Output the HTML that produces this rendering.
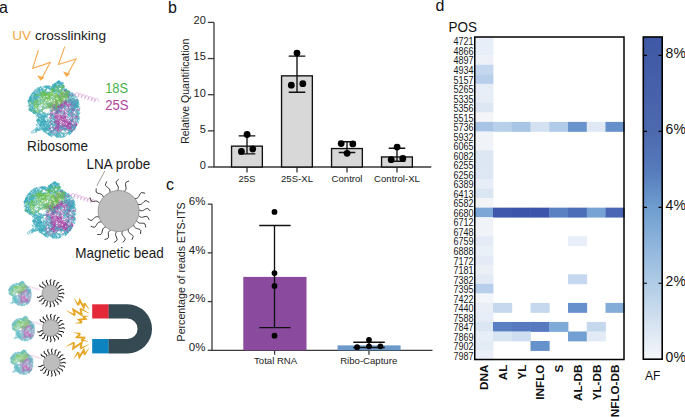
<!DOCTYPE html><html><head><meta charset="utf-8"><style>html,body{margin:0;padding:0;background:#fff;overflow:hidden}svg{display:block}text{font-family:"Liberation Sans",sans-serif}</style></head><body><svg width="685" height="417" viewBox="0 0 685 417"><defs><symbol id="ribo" overflow="visible"><g fill="none" stroke-width=".5" stroke-linecap="round" stroke-linejoin="round"><path d="M59.1 128.7l-.7 0-.2-.9 .1-1.3-.4-1-.2-1.1-.6-1-.4-.9M35.4 110.5l-1.1-.1-.6-1.1-1.2-.2 .1-1-.3-.9-.7-.2-.7 .1-.8 .5 .6 .8 .1 .9 .7 .6-.5 .7-.1 .8 .3-1-.5-.9-.8 .2-.4 1.1-.1-1.1-.7-.2 1-.6 .5-1.1-.2-.9 .2-.7 1.1 .1-.1 1M58.7 106.6l0 1.1-.9 .3-.4 .8-1-.4-.7 .1-1 .3-.8 .5-1.2 0-.5 .5-.1 1-.5 .6-1.2-.2-.8-.2 .2-.8 .8-.2 .4-1.1-.4-1.2-.3-.8M65.7 102.9l1-.3-.1-1.1M56 107.6l-.1 1 .4 1.2M66 90.1l-1 .1M72.6 127.5l-1.2 .2-.9-.2-.2 .9 1 .5 .7-.8 .2-.9 .5-.6-.4-1.2-1-.7 .4-.9-.6-.5 .4-.7 .4-1-.8-.6-.9 .4-.8 .4-.1 .9 .5 .5 1.2-.2 1.3-.2-.4-1.2-.3-1.2-.1-1.1-1-.6-.7 .5 .6 .7 .4 .8-.5 .5-.7 .4M50.7 121.1l-.9 .2M52.2 86.7l-.5 .8-.5 1.1-1.2-.1-.1-.9-.4-1.1-.8 .1-1 .1-.2 1.2-1.2 .4-.2-.9 .1-.7 .4 1.1 1.3-.1 1.1 0 .6-.8 .1-1.1-1.2 .1 .6 .8-.8 .6-.8 .2-.3-.6-.5-.7 .9-.3 0 .9 .7 .5 .8 0 .8 .8-.3 1-.6 .9M70.6 111.9l-.1 1-.8 .3-1.1-.5-1 .4-.9-.1-.6 .6-1.2 0-.7 .1-.7-.9-1.1 0-.2-1.2-.2-1 .1-.8-.6-.5-.2-.9 .1-.9 0-.8-1.3-.2-.7 .3-1.2-.2-.5 1 0 1 .7-.1 0 1.2 0 1.1 .9 .8M44.6 128.4l.9-.1 1.2 0 .5 .7-.3 1.1-.6 .6-1 .3-1 .3-.5-.8 0-1.3-.7-1-.9 0-.8 .6-1 0-.1-.9-.8-.2-.3 1.1 0 1 .6 .4-.9 0-.8-.7-1.1 .2-1.1-.1 .2-1 .7-.6 .8 .7 .2 .8-.6 .4-1 .7-.5-1M46.4 93l.5-.7 1.2 .3 .8 0M65.3 135.7l-.7 .2-1 .4-.5 .8-.9 .4-.9-.7-1 .8-.6-.9 0-.7 1.1-.4-.5-1.2-.7-.9-.8 0-1 .1-.8 .7-.9-.1-.3-.8 1.2-.4 .6 1 .3 .9 .5 1.1-.9 .6-1.1-.7-.5 1 .9 .5 .2-.9-.4-1.1-1.1-.5-.5 1.1-1.1-.2-.5-1-.4-.9M59.9 95.5l.2-.8-.4-.7-1.1-.7 .7-1-.5-.7 .4-.6 .9-.1 .1 .7-.8 .5 .2 .7-.8 .7 .2 .9-.7 .3M56.6 92.9l.7-.9-.7-.5-.4-.7-.7 .2-1.2 .4-.6-.5 .1-.9 1.1-.2 .3-1-.7-.6-.9 .8-.9 .5-.5-.5-.1-1.2-.7-.3-.9 .8-1 .4-.9-.6-.6-.7-.4-.7-.5-.7-.1 1-1.1-.2-.9-.3-1.1 .3-.8 .9-1 .8-.9 .9 .5 .7 .8 0 0 1M38.5 105.4l-1.1-.7 0-1-.8-.4-1-.2-.5-.6-.5-.9-.8 .3-1-.7-.7 .8-.6 1.2-.1 .8-.9 .2-.3-.8-1.1 .2-.3-.7-.8-.7 .2-.8 .1-1.2 .9-.3 1-.4 .6 .5 1.2-.3 .4-.6M73.7 117.3l.9 .4 0 1 .7 .7-.5 .6-.7 .7 1 .7-.4 .7 0 .8-.2 1.2-.9 .9-.8 .2-.1 .8-.1 .9 .4 .6 .5 1 .7 .2 0 .9-1.2 .4-.8-.3-.8 .5-1 .3-.4 .9-.3 .6-.7 .8M73.8 128l.8 .6 .5 .8-1.1-.5-.4-1.2 .8-.5 1.1 .2 .6-1-1-.6 .1-1 .9 .2 .7-.6-.6-.6-.8-.3-1 .2 0 1-.6 .9 .8 .7 .1 .9-.2 1.2-.7 .5 .5 .7 .5-.4M57.8 130.4l-.2 1-.4 .7 .8 .4 1.1 0 .1 1.1 0 1M58.1 106.7l.2 1 .3 1.1 .3 1 .5 1.1-.2 1.2-.9-.1-1.2-.5 0-.8-.9-.2-.3 .8 .9 .5 .2 1.2 1.1 .3 .5 .6M64.8 103.2l.4-.9-.6-.5 .4-1 1-.5 .5-.5 .7 .6-.4 .6-1-.3-.5 .6-1.3 .3-.9 .5-.6-.4-.8 .2M47.1 130.2l.9 .5 .3-.6 1.2-.2 1-.5-.4-1.2-.5-.6-.8 .6-.6-.4-.1-1.2-1.2 .1-.5-.6-.8 .7 .2 .8 .8 .5 1-.1 .1 1.1-1.1 .5-1.1 .2M74.2 124.6l-.9 .9-.8-.7-.8-.2-1-.7-.8 1-.9-.1-.2 .8-.5 1-.4 .8-1-.7-.5 .7-.4 .7-.5 .8 .3 .9 .7 .1 .9-.6-.5-.6-1.2-.2-.1 .9 1.1 .3M50.8 118.7l.3 .8-.8 .5-.3 .8 .6 .7-.4 1.1-.8-.3-1.2 .4-.8-.7 .4-1.2 0-.7 .7-.3 .4-1 .8-.8 1.3-.1 .9 .7 .2 .7-.4 .8-.2 .9 .2 .9 .8 .4 .3 1.1-1.1 .4 .4 1.1 .3 1 1.2-.5 .4 .6 .8 .5 .7 .4M68.3 105.6l-.2 .8-.8-.1-1 .3-.1 .8-.5 .8 .6 .5-.8 1-1.1-.1-.8 .4-.4 .8 .9 .7-.4 .9 0 1.1-.8 .5-1.2-.2-.7 .6 0 1.2-1.2 .2-1.2-.1-.7 .8 .1 1.2-.5 .9-.4 1.1 1.2 .3M73.6 104.8l.7 .9 .8 .1 .9-.3-.3-1 1.1-.2 .3 1.2-1 .8-.8-.2-.8 .6 .6 .7-.7 1 0 1.2-.9 .7-1-.3-.6 1 0 1 .5 .9-.7 .4-1 .4-1.2 .3-1.1 .7-1.3-.1M43.9 108.1l1.3 .1-.2-.7 1-.6M44.1 88.1l.7-.9 .7 .4 .6-.8-.3-1-1 .2 .7 .8 .8-.6 .8 .4 .7-.7-.4 1-.7 .4-.8 .2 .2 1.1-.2 1.1-.1 1-.8 .5-.6-.7-.8-.1-.4-.6-.9-.3-1 .2-.7-.1-.8-.2-1.2 .4-1 .7 .4 1M56 87.9l-.3 .8-.8 .2-.5 .8-.8-.3-.6 .5 .1 .9 .5 1.1 .7 .7 1 .5-.2 .9-.9-.1 .2-1 .7-.7 0-.7 .9-.3 .9 .4 .7 .5 .7-.5 1 0 0-1.1-.3-.7-.7-.4-.1-1-.4-.7-.9-.2-1.1 .3-.9-.7 .5-1-.6-.5-.7 .4-1.2 .4-.9 .1M56.1 131.5l.5-1.1-.9-.4-.8-.8-1.1 .3-.6-.5-.5-1 .8-.4 .6 1.1 .8-.4 .8 0 1.1-.3 .5 .6 .6-.5 1-.8 .4-.8-.1-1.1 .7-.3 .3 .9 1.1 .3 .2 1 1-.3M76 104l.9 .5 .7-.5 .5-1-.6-.8-1.1-.5-.9-.5-.6-.6-1.1 0 0 1.1-1.2 .2-1-.6-1 0-.9 .3-.9-.4-.7-.2 .1-.7 1 0 1.1-.7 .5 .5 0 1M38.7 99.8l-1.1 .3-.8 1 .5 .5M50.2 132.7l-.9-.5 0-.9-.6-.6 .3-1.1-.8-.8M76.4 125.8l-.1-.9-.1-1-1.2-.5-.7-.1-.7-.4-.7-.8 .7-.8-.5-.6-1-.4 .4-1 .3-.7 .3-1.3 .2-.8-1-.6-.2-1 .5-.9-.7-1.1-.9-.6 .4-1.1-.3-1-1.2 .1-1.2 .1-.7 .4-1 .4M39.7 120.4l-.9 .6-.6-.5-.2-1.1 .4-.7-.1-.9 .8-.2 .1-1 1.3-.2 .2-.6 1.2-.3 1.1-.3 1 .3 0 1-1.1 .1-.9-.1-.3 .8 .2 .9-.7 .3-.8 .2-.8 .6-.5 1.1-.9-.5-.8 .2-.8-.1-.1 1.1 1.3-.3 .6 .9-.7 .5-.2 .8 .7 .2 .2 .9 1.1 .5M60.6 93.9l.9-.4-.4-.7 .5-1.1-.5-.9 .5-.6 .1-1.2 .5-1.1 .9-.7 1.2-.2 .4-.7-.7-.4-.8 .4 .3 .7M53.2 109l-.8 .6-.6 1-.7 .9-.7-.3M71.3 126.4l1.2 .4 .9 .5-.4 .9 .5 1 .1 1.1 .3-1.1 .4-.7 .6-.9 .6-.4-.1-.8-1.2-.5-1.2-.1-1 .6-1 .5-.1 .9 .8 0 0 .8 .2 1.2M52.2 107.7l.6-.6 .7 .2 .8 .3 .3 1.1-.6 .4-.7-.7 .2-1 .7-.8 .7 0 .2-1-.5-.8-.9 .7 .7 .9-.3 .9 .9 .7 .9-.3-.2-1.3 .1-.9-1.1-.3-.2-1.2-.9-.1-1 .7 .3 1-1.2 .2 .2 .7 1.1 0 1 .3 .9 .2 .9 .6-.4 1-1.2 .2-.7-.9M76.8 114.1l.4 1-.5 .8-.9 .1-.7-.7-.7-1-1 0-.6 .4-.7-.3-.6 .6-1.1-.2-.9 .4-.6 .8 .7 .5-.6 .7-1 .3-1 .3-1-.3-.3-.8-.9-.4-.2-1-.9 .3-.5-.6-.2-.9-.2-1.1-.6-.6-1-.8-.5 .8 .3 .9M38.1 106.1l-1 .3 0 .8-.1 1.1 .1 .8M51 110l.5 .9 .7 .5-.5 .6-.7 .8 .6 .7 .1 .9 .5 1.1-.1 .9M48.3 108.2l1.2-.4 .8-.6 .3-.7-.1-.9-.2-1.1-.6-.8-1.2-.4-.6 1.1 .4 1.1 .9-.2 .3 .7-.5 1.1-1.1-.1 0-.9 .1-1 .1-.9-.6-1-1.3 .2-.4 .6 .6 .6M30.6 110.2l-.1 .9 1 .3M37.6 98.1l-.7-1.1 .6-1 1 .6 1 .7-.1 1-.6 .7M42.9 122l-.7-.2-.2 1-.8 .9-.8 .7 .5 .7-.8 .6-.8 .2-.3-1 1-.2 .8 .2 .3-.7 .1-1-.9-.8 .4-1-.3-1-.9 .3-.6 .9-.9 .5 .4 1 .7 .6M38.8 128.6l.1 .7-.9 .3-.4-.6-1 .3-.4 .9 .7 .9-.2 1.1-.7 0-.5-1.1 1.1-.5 1.2 0 .9 .1 .2-1.1 .7-.8 .7-.7 .7 .5 1.1-.7 1.1 .4-.3 .9M63 93.3l1 0 .2 1.1 1.2 .3 .4-1-.1-1.2 .9-.8 .7 .6 .5-.6 .7 .6 .7-.1 .8-.5-.7 .4-.7-.7-.9 .5-.2 .6M46.6 127.9l-1.1-.7-.8-.8-1.3 0-.8-.6-1.2 .3-1.2 0-.4-1.1 .4-.7 1.1 0 .1-.7-.7-.4-.3-1.1 .3-.8 .8 .2 .8-.5 .2-1.2 1.1-.3 .6-.8 .1-1 .1-.8 1.2-.2 .6 .4 1.1-.2 .7 .8-.7 .7 .2 1 .7 .6-.1 .9-.8 .7 .7 .7-.5 1M55.3 117.1l-1.2-.3-.1 .9 .9 .7 .9-.3M53.9 121.6l.3 1.2 .9 .4M33.5 97.2l.1-1 .9-.5 .6 .4-.2 .8 .4 1.1 1.2-.3 .5-1.1-.5-.8-.7-1 1.2-.6-.2-.8 .5-.8-.7-.9-.9-.8-.4-.7-.1-.9-.4 1.1 .6 .7 .6-.7M40.1 117.2l.5 .8 .6 .9 .3 1.3 .8 .6-.7 .9-.7 .6 .2 .9 .4 .9 .9 .2 .7 .4 .5 1 .9 .1 0-1 .6-.8 .8-.6-.4-.6-.7-1.1 .1-.9-.5-.6-.2-1.2-.4-.6-1.1-.2-.4-.9 .7-.6-.5-.6M63.3 87.3l-.9-.3-.7 .5-.6-.4 .3-1 .9-.8 .8 .3 .4-.8 0 1 .9 .5-.7 .3-.6 .5-.5-.7-.9-.6-.6 .5-.4 1.1-.9-.4-.8 0-.2 1.2-.6 .6-.6 1.1 .4 .7 .9 .7 .6 .6 .7-.7 .4-.6 .7-.4 .8 0 1.3 .2 .2-1-.3-.9-.7 .3-.7-.7M45.4 89.9l.4 1 .9 .2 .7 .8-.2 1.2 .1 .8M34.8 100.3l-.5-.6 .8-.9-.9-.7-1 .1M62.8 90.8l-1.1-.1-.3-.8-.7-.4-.7 1-1.1 0M69.4 122.3l-.4 .7-.7-.3-.3 .9 .1 1.2 .9 0 .5-.8 1-.6 .3-.9 .5-.6-.2-.8 .9-.6 .3-1.1 .1-.9 .8-.6-.6-.7-.5-.9-1-.6-.9 .3 .3 1.1 .7 1 .8 .7 .6 .3-.3 .7-.5 1 .7 .4-.3 .7-.7-.3M38.5 104l.3 .7 1-.5M49.7 123.3l-.5 .4-.8 .5 .8 1 1.2 .3M36 94.5l-.8 .2-.7-.8-1-.4 .2-.9 .5-.9 .6-1 .6 .2 .7 .4 .5 1-.6 1.1-.6-.4-.9 .4-.5-.8-1-.1-.6 .4 .8 .5 .6-.7-.6-1M63.1 87.5l-.5-1.2-.8-.1-.9 .1-.8-.4-.7-1.1-1.1 .5 .5 1 .3 1.2-.4 .6-.2 1.3 .1 1.2 .6 1 .3 1-1.1 .2-.3 1.1-1.2-.1 0-.7-.6-.6-.9 .3-.4-.9-.7-.9M49.7 104.9l-.7 .9 .8 1 1.2-.6 .7-.7 .4-1M61.9 100.5l.2 1.2-.6 .9M39.8 96.2l-.7-.4 .1-.7 .9-.8 1 0 .4 .6 .4 .8 .6 .6 0 1-.8 .7-1.2 .5-.7-.7-1.3-.2-.7 .3-.7 .8-.9-.6-.6-1.1 .5-.8 .4-1.1M46.1 133l.7-.2 .6 .5 1.1 .1 .2-1 .2-1.1 .6-.6-.3-1.2-1.2 .6-.7 .9-1-.3-1 0 0 1.3-.7-.1 .1-.8-1.2-.2 .5-.7 .9-.1 .1-1.1-1.1-.3-1.1 0M46.5 132.5l-.6 .6-.8-.5-.5-.5-1.2-.4 .4-1-.5-1.2-1-.5-.6 .4-.8-.5-.6 .7-.5 1-.4-.7 .1-.8-.3-.8 .3-1 1.2-.2 1.2 0 .8 .8 .9 .7 .2 1.3 1.2 .1 0-1.1 .3-1 1 .4 1.2 0 .3 1 .6 .8 .8 .8 .9 0 .9 .2 1.1-.4M40.6 93.6l-.4 .7-.4 .8-.7 .8-.8 .2-1 .4-.7-.7-1.1 .6-1.1 .8 .6 .6 .4 .6 .4 1.2M33 96.8l.8 .5-.5 .9 .5 .9 .8-.1 0-1.1 .9 0 .9-.4 .6-1 .1-.7 1.1-.2-.3-1.1 .5-.8 1.1-.7 .5-.7 0-1.1 .6-1 .7 .4 1.2 .1 .6 .9-.1 .9-1 0-.8 .2 .1 1.3-.6 .4-.3 .9-.3 .9-.9-.1-1.2-.3-.8-.6-.9-.1M70.2 95l-.5-.7 .4-.7-.6-.4 .2-.8-.2-.8-.2 1-1.2-.1-.5-1.1 .5-.5 .9 .3 .3 1.1-.6 .6 .9 .8-.5 1-.5 .7-.9-.8-.8-.4-.7 0-.7-.7-.8-.3-.4 .7 .4 1.1 .1 1 .6 1-.6 .9 .6 .6 .4 1.1M63.3 108.6l-1.1-.2-.7 .3-.9-.7 .4-.8M36.4 96l.7 .3 .3 .7 .5 .7-.1 .8-1.1 .7-.2 .9-.8 .4-1-.8-.9 .2-.2 1 .3 1.3-.6 1.1-1.2 0-1 .4 .1 .9-1.3 .3-.2 1 .2 1.1-.2 .8-.9 .1M38.7 123.9l.9 .5 .6 .6 .6 .7 .7-.4-.5-1.2-.4-1 .7-.7 .7-.9 .8-.1 1.2-.3-.3-.7 .5-1.1-.1-.8-1.1-.1-.8-.1-1.1 .2 0 .8 .7 .5 1.1-.2 .6 .5-.1 .8-.7 .5-.9 0 .1 .9-.5 .8-.1 .9-.6 1-.2 .8-.4 1-1 .4M61.5 127.6l.9 .5-.4 1-.8 .8 .5 .6 .6-.4 .1-.7-.8-.4-.5 .5-.9-1 .5-.6 1-.7 .7-.7 1.1 .6 .7 .6 0 1.2 .6 .7 .1 .8 .4 .9M49.9 135.8l-.3-.7-.8-.1-.2-.7 .8-.5 .7 1 1-.5 .5-.5 .6 .5 .7 .9-.9 .7-.5 .8-.4-1.2-.6-.3-.8 .4-.8-1 .3-.6 1.1-.2 1.2 .5 .4-.7 1.2-.3M72.7 100l0-.8 .1-1-.9-.1-.2 .9-.2 1-1.3 0-.9-.4-.7 .6-.1 1.1 .3 .7M73 93.4l.2 1.2-.7 .7-.1 1-1.1 .4-.8-.7-.8 .2-.8 .1-.6 .5 .4 1.1 1.1 .4 1.2-.3 .5-.6 .2-.7 .1-.9-1.2 0-.7 .3-.3-.8-.7-.2-.5 1-.8 .7M34.7 108.6l-.1 .9-.9 .1-1 .4-.6 1-.5 .8-.8-.5-.2-.9-.9-.5-.4-1 1-.5 .8-.4 .6 .9 1.3 0 .9-.2 .4 1.2 .6 1.2-1 .4-.3 .7-.4 .9 .8 0-.1 .8 0-.7-.8-.3 .5-1 1-.3 .4 .6 .9 .3 .6 .9 .7 1 .8-.1M71.8 131.5l-1.1 .1-1-.4-.3 1 .3 1 .6 .5-.3-.8-.9-.6 .1-.8 .6-.5 .5 .5 0 1 .9 .4-.6 .7-.6 .7-.7-.6-.7-.4 .4-.8 1.1-.6 .7-.9-.1-.8-1 .1M59.3 126l.5-.7-.6-.6 0-.8-.4-.6 .3-1-.7-.6 .8-1-1-.7-.8 .5 .1 1.2-.6 .6-.9-.7-.1-.8-1.2 .4 .3 1 .6 .4 .4 .7-.5 .5-.3 .9-.9 1-1 .5M67.2 99.7l-1.1-.3-.7-.8 .4-.9 .5-1 1.1-.7-.3-.7-.6-.8-.4-.8 .2-.7 1.2-.2 .8-.2 .9 .5-.5 .9 .6 .5-.3 .9-.1 .9 .7 .9 .2 1 .8 .5 1.2 .5 .6-.1 1.2-.1 .5-1-.5-1 .6-.8-.4-.7-.6-.4-.6 .7M55.5 99.9l-1.1-.3-.1-1-.3-.7 .4-.9 .5-1.2-.9-.7-.8 .8-.8-.2-1.2-.4-.7-.7-.8 0-.8 .5 0 .8 1 .4 .5 .7 1 .1 1.3-.1 .7-.6 .6 .5 .6 .7-.4 1-.8 .2-1-.3M67.4 94.7l-.7-.9-1.1 .5-.7-.3-.6 .9-.5 .7 .6 .7 1-.3 .5 .6 .5 1 1.2 0 0 1 .5 1.1 .2 .9-1.1 .4-.5 .6-.2 1-1.1-.3 0-1.1 .7-.3 1.2-.4 .3 .8 .7 .9 .9 .4 .5-.8 .4-.6M55.6 83.1l-.2 1.1 .9 .7 .8-.4 1 .8 1.3 .2 .2-1.2-.5-.5 .1-.8 .6-.4-.3-.9-1 .2-.9 .7-.9 .9-.8-.4 .4-1.2 .7 .8 .8 .1 .7-.8 .2-1.2M64.7 88.6l-.1 1.3 1.3 0-.1 1 .6 .8-1 .8-.9-.9 .6-.8 .6-.7 .1-1.3 .8 0 .2 1.1-.2 .8 .9 .5 1-.4-.8 .2-.6-.7-.5-1.2-1.2 .3-.7 1M41.4 116.1l.6-.8 .7-.4 .7-.5 .4-1-.4-.6M53.7 134.3l1-.4 1-.7 .9 1 .9-.2 .6 .6-.6 .7-.7 .3-.9-.2-1.1-.1-.3-.7-.8 0-.7-.9 .2-1.2-.7-.7-.6 .7-.7 .4-.8-.3-1-.3-.9 .7-.4 .6 .8 .8-.3 1 1.1-.1 .5 .9 .1-.8-.9-.3 1-.4 .5-1.1 .8 0 .8 .2 .3-.8M56.3 112.7l.6-.9 .6-.9 1 .1 .4 .9-.6 .3-.9-.9-.5-.8 .8-1 .5-.8-.9-.6-.8-.5-1.1 .1-.8-.2-.5-1.2M43.8 124.5l-.6-.9 1-.7 .5 .8-.4 .6-.2 .8 0 .8 0 1.1 1 0 .2-.9 1.1-.1 1.2-.3 .5 .6 .8 .5 .6-1 0-.7-.9-.8-1 .4-.9 .3-1-.7-.4-.7M34.4 113.5l.1-.9-.2-1.2-.7-.5-.6-.6-1.1-.4-.6-.4-1.1 .1-.5 .8-.4-.9 .5-.5 .6 .5 .8 .7 .9 .5-.2 .9 .8 .2 0 1.1-.1-1 .5-.9 .7 .3 1.1-.2 .4 1-.5 .6-.8 .4-.8-.2 .4-.7 1.2-.5 .5-.4 .8 .3 .4 .9 .5 .6M59.4 83l-.6-.5-.7-.5-.9 .2-.2-.8 1 .8 .7-.6 .1-1.2 0 1 .6 1 .4 1 1.2-.1 1.1-.1 .6-1-.8 .5-.7 1 .4 .9 .9 .7 .7 .4 .9 0-.2 .7-.6 .4-1.1-.4-.7 1-.8-.1-.9-.7 .3-.8 .6-1.2 0-1.1-.1-1.1M57.6 107.7l.8 .6 .9-.9 1.2 .1 .5 .6 .7 0 .7 .2 .6-.6 1 .6 1.2-.2 .2-.8-.2-1.1-1.1-.1M56.6 126.1l-.2 1.2 .6 .5 .6 .5 .5 1-.1 .8-.6 .9 0 .7M33.8 97.6l.3-.8 .3-1.1 .7 .1 .7 .2 .7-1 .9-.8 .5-.5 .3-1 1.2 .3 1 .1 .4-1-.5-.7-.5 .5-.8 0-.1-.7 .8-.3-.5-1-1.1-.3-.5 .5-1.1-.1M39.1 121.5l1-.7 .7-.1 .7-.7 0-.8 .9 .1 .8 .5-.6 .7 .9 .6 .2 1.2 .9 0 .8 0 .2-.8-.9-.2-.4 .6 .8 .7 .2 .9-.4 .6-.6 1.1 .7 .4M36.6 118l.8 .6 .7 .9 1-.1 .1 .8-1.1 .7-.9 0-.1-.9 .2-.9 .9 .1 .2 1-1.1 .5 .6-.7 .7-.5 .7 .3 .5 .7 .9 .6-.9 1-.3 1.2M78.5 112.5l-.7-.4-.4 .7-.7-.4 .5-.9 0-.8 .1-.8-.6-.4-.8-.9 .4-1.1 .4-.6 .9-.6-.6-.7-1-.1-.1-.8-1 .1-.7-.5-.5-.5-1.1-.5-.5 .6-1-.2-.9 .4 .5 .6-.2 .9 .7 .7-.6 .6-.6-.5 .5-1.1-.7-.6M76 122.4l.2-1 1.2-.1-.1-1-1.2-.3-.5 .6-.3 1.1 .9 .4 .7-.8 .9 .8 .6 1-.7-.9 .1-.9-.7-.3 .4-1 1.1-.6 .5-1 .5-.8-.3 1-.7-.2 .2-1 .3-.8-.9-.3-.4-.8-.3-.7 .5-.9 .2-1.1 .5-.8 1.1 .2 .3 .9-.9 .6-1.1 .7-.5-1.2M61.6 115.8l1.1-.6 .8 .3 .8 .4 .3-.7-.3-.8 .3-1.2 .1-1.3 1.3 .3 .8-.3 .3-.7-.7-.9 .8-.9 .7-.9 .7 .1 1 .7 0 1.2 0 .8-.7 .5-1.2-.5-.9 0 0-1.1M67.8 92.2l1.1-.1-.1 1M73.3 108.5l.2-1.2-.1-1.2 .5-.9 .8 .2 0 .9 .9 0 0-.8 .4-.7-.6-.6-1.2-.2-.1-1.2 1 0M72.6 121.4l-.6-1M51.8 125l.6-.8-1-.8-.7 0-1 .8 .2 1 0 .8-.1 .7-.1 1.3-.1 1.2 .6 1 1.1 .2-.2 1-.8 .3-.5 .6 0 1.1-.8 .8-.7 .2-.6-.4-.8-.1 .9-1 1 .6 .7-.9M70.7 91.9l-1 0-.6-.7-1.2 .2-1.1-.2-.7 .3-1 .1-.3-1 .5-.9 .7-.2 .1 1.1-.2 .7 1 .5 .4 1 .9 .4 .3 1.1-.6 .3-.7-.3-.6-.8-.8 .5-1.2-.1-.2 1-.7 .3-.7-1-.8-.3-.6 .6M54.2 109.4l.2 1.1 1.2 0 .8-.3 .4 1-.4 .7-.8 0-.5 .8 .9 .5 .8-.4 .9 .2 0 1.1-.9 .3-.6-1.1-1.1 .1-1 .6-1.2-.1-.3 .9-1.2 .5-.7-.2-.6-.5-.7-.9-1.2 .5-.8-.1-.6 .8-1-.3-.4 .7 .9 .8 1-.4M63.8 88.2l.6 .5-.1 .9 .3 1.2M33.8 101.7l-1.2 .5-1.1-.1-.7-.4-.6-1.2-1.1 .3-.6 .6 0-1.2 .8-.6 1-.8-.7-.8 .7-.4 .6 .7 .5 1-.9 1-.1 .8-1.1 0-.2-.8 .6-.6-.4-.7 .9 .3M53.2 116.3l.9 .6 1 .8 .4-.5 .4-.7M43.7 129l-.1 1.2 .9 1 1-.9 0-1.1 .4-.8 .9 .6 0 1 1.2 .2 .5-.7 .7-.4 .9-.7-.5-.9-1 .2-1-.3-.3 .8-.9-.3-.9 0-.9-.8-.3-.8-.1-1-1.2-.5M74.6 126l-.4 .7 .4 .9 .2 1-.5-1-1.1 .4-1.2 .2-1.1-.3-.8-.6-.8-.6-.4-1-1.3-.2-1.2-.1-1.1 .6-.8-.1-.6-.5 .1-1.2 .6-1.1-.2-.9-1.2-.4 .3-.9-.8-.2M61.3 133.2l1-.5 1 .3 .7 1.1-.4 1.2 .3 .8-1.1 .7-.7-.7-1.1-.6-.7 .3 .1 .9 .3 .9-.7-.1-.7-.1-1.3-.2-1-.7 .3-1-.7-.1-1.1-.6-.8 .1-.7-.7M56.2 120.8l.4 1-1 .6-.8 .3 .1 .7 0 1.3-.8 .2-1-.5-1.1-.5-.7 .5-1 .6M55.7 107.9l0-.8M34.5 95.3l-.3-1.1-.7-.9-1 .4-.7-.4 1.1 .3 .8-.3 .4 .9 .7-.3 .5 1.1-.9 .8 .3 .7-.5 1.2-.2 1.2-.8-.1-.2-1-1.2 .2-.7-.6-.6-.8 1.1 .3 .3-.9 .6-.7 .9-.4 .4 .8-.2 1.2-.8 .9M55.8 121l-1 .2-.1-1.2-.4-.9-1.1-.3-.8 0-.7-.9-1.1-.4-.6-.8 .6-.6 .9-.5 .7-1.1M53.6 92.7l.4-1 1-.5-.5-1.1-.8 .4-.4 .9 .8 .6 .7-.5 .4-.7 .7-.1 .5-1.1 .2-1.3-.5-.8-.4-.9 .9-.3 .8 .6 1.2 .2-.1 .7-.4 1.1-.3 .9-.8 .3-.7 .4-.9-.8-1-.4M54 90.3l-.4-.9-.6-1-.9-.1-.7 .8-.5 .8-1.2-.6-.6-.9-.9 .4-.6-.6-.9 .5-.4 .7-.5 .9-.8-.1-.7 .7-.9 .1-.6 .3 .5 .8-.3 .9 .8 .3M43 128.2l1.1 .5 .8 0 .7 .6 .7-.5 .4-.6 .3-1 .4-.9 .7 0 1-.9 1.1 .7 .1 1-.8 .7 .4 .8 1.2-.4 .6-.7 .6-.5 1.2 0 .6 1 .8 .3 .3 1 .7 .7 1.1-.4 1-.6 .5-.8 .6-.9 .9 .2M35.9 105.3l-.9-.4-1.2 .1-.2 1.2-.6 .9-1 .5 .1 .7 .9 0 .2-1.1 .2-.7-1-.4-.4-1-.5-1.2 .8-.5 .6 .7 1 .5 1-.8 1 .7 .8 .5 .8-.5 .7 .4 .8-.5 .5-.9 .7 .1 .3-1.2 .7-.6 0-.7 0-1.2-.9 0-.2 1M34.5 91.3l.7 .4-.4 .8-.2 .7 .1 .8 .9 .6 .5 1-.7 .4-1.2 0-1-.8-.9-.5 .1-1 .8 0 .8 .6 1.1-.1 0 .7 1 .1 .4-.8-.9-.8-.9 .9-.9-.1 0-1-1 0-.2 .8-1.1 .1-.5 .8-.2 1-.3 1.3-.8 .3 1 0 1.2-.4 .3-.9-.8-.9M57.9 132.4l-.4 .6-.1 .8 .9 .4 .4-1.2 .4-1.1 1-.6 .8 .2 .4 .8 .3 1-.5 .6-.1 1.2-1.2 .5 .2 .8 1.1 .1 .7 .9-.3-1 1-.4 1.1 .2 1.1 .2-.7 .3-.7 .6 .2-.9 0-1 .7 .1 0-1.2-.4-.9M44.6 118.1l1.1-.3 .2-.9 .9-.8 .6-1.1 .5-.4-.2-.7-.1-.9 .7-.7 1 .6 .7 .7 1 .1 1.2-.5 .5 1.1-.5 .5 .5 .8 .9-.3 .3 1.2-.8 .2-.3 .6 .3 .7 .2 .9-.3 .9-.6 .7-1.1 .2-.8-.6-.8-.4-.4 .9-.7 .5-1-.7M54.1 89.8l-.2-1.2-1.3 .2-.9 .8M42.7 102l.6-1.1 .5-.9 .9 .3 .5 .8 1.1 .4 .7 .2-.1 1-.1 1 1 .6 .5-.7 .7-.8 .9 .3 .4-.9 .9-.3 .9 .7 .8-.5-.7-.8 0-.9 .3-.8 1.1 .4M79.5 110.6l-.5 .7-1 .1-.5 .4 0 1-.4 .7-1.1-.5-.5-1.1-1-.8-1 .2M46.3 130.2l.3-.7-.1-.9 1 0 .8-.3 .2-.9-.6-.4 .2-.9 0-1.1-.4-.6-.8 .4-.4 1.1-.7 1 0 1.3-.2 .7 .7 .7-.7 .6-.9-.2-.1-.7-.2-1.3-.6-.5-.5 .7 .2 1.1 .8 .4 .9-.6 .9 .7 1-.5 .4 1 1.2-.2 .4 .8M44.9 95.8l-.4-.8-.5-.8-.2-.9M74 98.5l-.4-1.2 .3-.8-.5-.6-1-.4-.5 .9-.6 .4-.9 .7-.9 .5-.7-.8M53.9 85.6l-.6 .8 .6 .7 1.1-.6 .8 .8 .9 .5 .9 .1 1-.2 .4-1.2 .9-.9-.6-.9 .2-1.1-1.1-.1-1.2-.2-1 0-.8 .5-.9 0-.6 .7-1 .4-.8 .3 1.2 .1 .8 1 0 1 .3 .8-.7 .4-.7-1.1-1 0-.4 .7 .6 .7 .8 .1 .5-1.1M45 122.6l-1-.6-.9 .9-.7-.2-.2 1.2-.7 .5-.7-.9-.4-.5-.6-.8-.7-.6 .3-.8-.8-.4 .1-1.1-.5-1.1 .9-.3 0-.9-1.2-.3-.5-.7-.2-1.2 .9 0 1-.2 1-.3 .8-.4 .9-.2 .6-.8 .8 .1 .9-.1 .1 .7 .8 1 0 .8-.8 .7 .4 .7M42.2 120.2l1.3 .1 .5 .7 .6 .5-.8 .6-.5 .5-.7-.3-.8-.7-.5-1.1 1-.5 .7-.4 .6 .8 .9 .5 .8-.1 .8 .2 .2 1.1 .7 .7-.6 .7-.1 1 .6 .6-.5 .9-.9 .7 .2 .9 1.3-.3 .8-.6 .7-.3 1.2 .3 0 .8 .7 .6 .5 .5-.3 1.2 .6 .9 .7-.1M70.6 95.9l-.3-.9 1-.4 .9-.4 .6 .7 .5 .7-.5 1.1-.8-.3-1.2 .5-.7 .2-.4 .6 .7 .7-.2 1 .4 .9-.1 1.1-1 .6-.6 .5-.8 1-.6-.5-.1-1-1.1-.6-1.1 .7-.9 0-1.2-.3-.7 .4 .2 .9-.1 1.2 .7 1-.6 .7-.7-.1M60.6 123.9l-.8-.3-.7 .2-.9 .7-.9 0-.3 .8 .7 .7 .8-.7 1.2-.2 .2 1 1.2 .2 .9 .6 .9-.5-.4-1.1-.2-1.3-1.2 0-.8 .1-.1-.9-.7-.4 .6-.8 .5-.8 1-.7 .6-.9 0-.8 1-.6-.1-1.1M75.4 102.8l-.1 .9 .7 .2 .2 .9 .8 .3 .8-.2-.3-1-.6-.6-.1-.7-.9-.8-.8 .5-1-.6-.8 .5M61.1 92l.3-.8 .8-.8 .7-.5 0-1.2-.2-.9 .4-1.1-.7-.7-.1-1.1-1.3 0 0-1-.7 .2 .1 .9-.6 .7 0 .9-.9 0-.6 .7-.7 .7-.2 1.2 .7 1 .3 .7-.7 .8M46.1 130.6l-.9 .5 .5 .7 .8 .1 .4 1.2 1 .7 1-.1 .6-1.1 .5-.9 1-.1 1.2-.1 1-.1 .5-.6-.3-1.3 .1-.7-.9-.6-1-.8 .3-.6 1.3-.2 .9 .9 1 .3 .7 1-.2 1.2 .5 1.1 .2 1.2 .6 .9M67.5 134.2l-.6-.5-1.2-.3-.4 .5-.8 .1-.6-.4-1.1 .3-.5-.7-.5-.5-.9-.2-.3-1.1 .5-.8 .8-.2 .7-.6 .1-1.1-.6-.6-1.2 0-.9-.5-1.3-.1 0-1 .3-1.2-.5-.7-.9 .4-.7-.4-1.2-.4-.9-.2-.2-1.2M56.9 112.8l-1-.6 0-1.1 .8-.5 1.3 0 .4-.6 .2-1-.7-.5 .3-.9-.6-.5-.5-.7-.6-.7-.8-.7M43.3 115.8l0-.9-.7-.2 .1-1.3 .9 .1 .6 .6 .6-.4 .5-1 .2 .8 0 .8 .2 1.2 .4 1.3-.3 .7-1.1-.3-.8-.1-.6-.4-.7-.4-1.3-.2-.9-.5-.7-.9-.2-.8-1-.3 .2-1.2 .1-.9 .3-.6 .5-1.1 .6 .3 .9-.5 1.2-.3 0-.8M42.3 110.7l-.1 .8 .5 .7 1 .4 .8-.3 .8 .8-.8 .9 .3 .9-.8 .9 .1 .9-.2 .7 .8 .9 .1 1-.1 1 .2 .7-.4 1-.3 1.2-1 .3-.9-.9-1 .8-.6 1-.8 .1-.7-.2-.6-.7-.7-.4 0-1.1-.7-.9 1-.7M69 105.3l0-1-.5-.5 .2-.8 .8 .2 .8-1-.7-.9 .9-.6 0-1.1-.3-.8-.8 0-1.2-.2-.3-.8 .6-.8 .8-.5 .4-1.1-.3-.7 .1-1.1-.2-.9-1.2-.1M29.7 97.7l.8 .4 0 1-.5 .9-1.3-.2-.5 .8 1.1 .2 .2-1.1 0-1.3 1.3-.2 .5-.7 .7-.4 1 .1 .8 .5 .2 .7-.6 .9-1 .7-.8 .2-1 .4-.5-1-.2-1.3 1.1-.3 .6 1.1 .2 1.1-1.1 .2 .1 .8-.6 .7-.8-.6-.1-1.2 .2-.8M71.5 128.7l.5 .5 .8 .5-.5 .9-.7-.4-.7 0-.1 1.1 .8 .1 1.3-.2 .3-.6M36.3 96.5l-1-.7 .1-.8 1.3-.3 .8-.4 1.2 .3 .6-.6 .3-1.1-.7-.7-.8-.7-1.2 .6-.3-1 .5-.7 .9 .5 .2 1.2 .8 1 .7 0 1.3-.1 .3 1.2 .3 1.2M43.6 87.8l.5-1.1 1-.3 1.1-.5-.1 .7-.4 .8 0 .8 .8 .1 .2 .9-.9 .5-.1 .9-.6 .7-.6 .4-.7 .8-1.1-.4-.7 .9-.7 .2-.6 .5-.6-.7-.9 .9-.8 .5-.8-.5-.5-1 .7-.6-.1-1.2 .4-.7 1.2 .5M59.9 97l.7 .1 .8 .1 .7 .2 .2 1.1-.6 1.2-.9-.6-.2-.7-.9 .2-.2-.8 0-.7-.3-1.2 0-1.2-.8 0-.5 1.1 1 .8 1.2-.2 .9-.1 .1 .9-.4 .6-1.3-.1-.5 1 .4 .7 .8 .8-.8 1-.8-.8-.2-.8 .5-.9M71.9 112.6l-.3-.8-.8 .1-1 .6-.4-.8-.7-.3 .1-.7 1-.7 .7-1 .7-.5 .9-.4 .2-.8-.6-.8-.9 0-.4 .7-1.1-.1-1.2-.4-1-.2 .1-.8M73.2 109.6l.9 .6 .8-.3 .4-.8 1.1 .6 1.1 .4 .5 .6 .2 1-.6 .8 .8 .8 1.1 .3-1.3 .1-.6 .7 .5 1.1-.4 .8-.7 .5M36 124.1l.5 .6 .8-.7 .7 .6-.5 .6-.7-.3-.9 0 .9 .4 .6 .9 .8-.3 .2 .8-.5 .6-.7 .6 0 .7 0 .9 0 1.2-.7 .7-.3 .8-1-.1 .6-.9 .1-1.1-.1-.8 .5-.6 .5-.5 .1-.9M55.6 85.2l-.6-.7 .5-1 1 .7M72.1 110.6l.7-.5 .8-.1 .9 .4 .6-.8-1.1-.6 .3-1.2-.6-.6-1-.1-.4-.7-.8-.9 .3-1.2 .4-.8 .6-.6-.7-.5-.7 .5 0 .9 .2 .9M72.1 127.2l-1 .1-.4 .9-1.1 .4-.2 .8 .2 .9 .9 .7 .9 .2 1.1 .4-1 .1-1-.7 .4-1 0-.9-.7-.5-.6-.5 0-1.2-.9-.9-.9 .1-.6 .4-1 .7-.2 1.1-.7 .7M42.3 92.7l.4-.7 .7-.6 1 0 .9-.7 .9 .1 .6 .6M32.7 104.1l.5-.7-.6-.9 .3-.7 1.1 .3 .1 .9 .4 .7 1.1 .4 1.2-.4 .9 .8 .8-.4 .7 .5 .7-.1M54.7 86l0-.9 .2-1.1-.2-1 .8 .6-.7 .8-.5 1.2 .5 1.1-.2 .7-.6 .6-.3 1.2M48.9 92.7l.8-.6 1 .7M74 101.5l-.7 .1M38.1 87.5l.4 1.3 1.1-.2 .4-1.2 .5-1.1-.1 .9-.7 .6-.1 1-.6 .6 .4 .9-.1 .7 .7 1.1 1.2 .2M31.2 100.8l.6 .3-.3 1.1-1.3 .3-.4-.9-.8 0-1 0 .1-.8 .4-.8 .9 .6 .5-.8 .9 0 .6 .5 1.2 0 1 .3 .8-.7 .7-.5 1-.1M60.3 103.7l.1 1.1-.7 .2-.6 .4-.8 .1-1.1-.3M73.6 101.8l-1.3 .4-.7 .1-.9-.9-1-.5-.7 1-.8-.4-1-.7-.6 1-.9 .1-.6 .8-.8 .3-.5 .9 .3 1 1.2 .3 .4 .8-.3 .8-.9-.3-.1-.9 .8-.6 .8 .4 .7-1 .3-1.1" stroke="#3caabb"/><path d="M70.2 128.1l-.8 .6-1.1-.6-1-.4-.5 1-1.1 .7-.8-.4-1.1-.1 0 .9 .7 .4 .6-1-.5-.6-1.1-.6-.6 .8-.9 .8-1.2-.4-.8 .4-.8 .9-.6-.5-.8 .4M62.8 100l-.3 1.1 1 .6 1-.9-.3-1.2-.8 .2-1.1 .3-.7 .7-.7-.2-.5-1.1M61.5 97l.2-1 1.2 0 1.1 .4 .5-.6 .7-.4-.4-1M55.7 107.1l.8-.6 1-.5 .6 .7M72 120.4l-.9 .6-.7-.6-.8 .8-.3 .9-1-.3-.4-.7-.8 .1 .1 .9 .9 .9 .7 .2 0 .8 .9 .4 .5-.7 .7-.4M66.4 108.7l-.9 .8-.9-.5-.3-1.2-1-.1-1.2-.1-.5-1.1-.2-1.2 .6-1-.3-.7-1 .1-.1 1.2-.3 1.1-.8 .8-.4 .5-1.2-.2-1-.1-.5-.5M53.5 106l1.1 .6 .6-.6 .7-.9M62.6 94.6l-.6-.8M57.4 105.5l.8 .3 .3 1.2 1 0 .7 1-.9 .6 .6 1.1-.8 .6-.8 .6-.8-.2-.7 1 .7 .9 0 1.2-.7 .2-.6-.5-.8 .6 .6 .9-1 .6M55.6 105.2l.8 .7 .8 .3 .5 .4 1 0M52.6 116.9l-.5 .5 .8 1 1.1 0 .1 .9 1.1 .8 .4 .7-.2 .9 .4 .6-.4 1.2-.8 .9 .6 .5 1 .8-.5 .8 .2 .9 .4 1.2 1.1 .3 .6 1-.4 1 .2 .9 .7 .9 .7-.4 .8 .2 .3-.6 .5-.7M55.1 123.2l.3 1.2M56.9 126.5l.4 .7 .8-.4 .2-1 .6-.5 .4-.6-1.1-.6-.9 .4-.8 .9 .1 .7M52.1 105.8l-.6-.8M50.1 105.8l-.6 .8 .8 .7 .9-.7 .9 .2 .3-1-.1-1.2M48.8 106.8l.7 .9 1-.3 .3 .8 1 .3 .7-.2 .1-.8 1.1 .2 .1 .7-.6 .6M73.8 105.2l.8-.2 .9 .1 .8 1 .8 .7 0 .9 1 .7-.4 1.1-1.1 .6-1-.1-.9 .1-.7-.2-1.2-.1-.8-.7-.9 0-1.1 .2-.9 .6-.5-.7-.1-1.1-.5-.9 .7-.3 .7-.2 1 .7M54.7 104.7l-.7-.6-.7 .2-.6 .8M51.3 105.1l-.8-.1-.8-.1M52.1 104.5l.1-.7-1.2-.2-1.2 0M73.9 122.8l-.8-.8 .7-1.1-.6-.4-.8 1-1 .2-.7 .6-1.2 .3-.7-.8-1.3-.3-.5-.8-1.3 .2-.2 1.3 1 .6 1.1 .5 .8 .3 .3 .8 1 .5 .7 1 .3 1.1-.3 .7 .8 .9 .5 1.2 .9 .2 1.1-.1 .5-.8 .9-.4 .3-.7-1.2-.2-.7 .4M63.9 96.9l0-.9-.4-.8-.7-.7 .2-1.2M58 96.8l.6 1.1 1.3-.4-.3-1.2 .3-.8M58.3 94.7l-.8 .1-.4 1.1M73.6 109l-.6 .8-.1 .8-.9 .2-.3-1-.8-.4 .6-1.1 .6 .3 1.2-.4 .5-.9-.2-1.1-.3-1.1M73.3 102.2l-.9-.1 .1-.8M70.7 99.2l-.4 1.2 .9 .5 .6 .6-.1 .9-.5 .9 0 .9 .8 .1 .2 .9-.2 .7-.5 .8-.4 .8M58.2 107.8l-1-.3-1.2 .1M78.9 116.6l-.5 .7-.2 .8 0 .9-1 .3-.3-1.1-.3-1.2 .7-1.1-.6-.7-.6 .3-.6-.6-1-.2 .1-.8-1.1-.3-.2-1.1-1.2 .2-.9 .3 0 1.3-.7 .9 .7 1.1 .8-.2 .9-.2 .8 .6M66.2 103l-.6 .7-.3 .7-.6-.3-.8-1-1.1 0-.8 .3-.1 .8-1.1 .3-.3-.7M61.2 111.6l-1.2 .1-.4-.8-.1-1 .7-.1 .6 .7 .8-.1 .9-.6-.2-1.1-1.3-.3-.1-1.1 .9-.2 .9-.9 .5-.8 .9-.3 .8-.7 .6-.6 .9-.1 .6-.7-.6-.9 .2-.8 .1-.7-.8-.5M63 116.4l-.8-.2-.7-.4-.9 .6-.2 .9 .8 1 .9-.5 .6 .5 1.1 .5 .6 .7 .7-.6 .5-1-.2-.9 .2-1.2-.2-.9 0-1.2-1.1-.7-.3-.8 .3-.9-1.1-.4-1 0-1.3 .1-.5-.5M59.2 106.8l.6 .5 .7-.7-.5-1-.8 .4 .1 1-.9 .2-.7 .6-.5 .5-1-.3-.2 1-.9 .1-1.1 .3-.2 .9-1.1 .1-.8-.9-.9 .5M71.5 109.8l.6 .8M54.1 114.8l.9-.2 .8 .9 .1 1.3-.8 .5 .5 1-.6 .7M64.6 90.8l.7 .4M66.6 91.1l.3 1.2 .9-.1M68.8 93.1l.1 1.3-1 .4-.2 1 .8 .4 .2 .7-.7 .3-1-.5M67.6 125.4l1.2 .1-.1 1.2-.8 .8 .6 .7 .8-.9 1.1 0 .6-.7-.4-1 .8-.3-.2-.7-.9-.9 .3-1-.7-.3-.9 .7-.9 1-1-.7-1-.6-.6 .5-.8 .5-.1 .9 1.3 0 .9 .8-.7 .7-.9 0-.6-1-.7 .1-.4 1 0 .7-1 .5-.6 .4-.8-.7M78.8 110.5l.7 .3-.8-.6 .1-.7 .9-.6M79.4 109.5l-1.2 .3-1.1-.3-.3 1.1-1 .4 .1 1 .5 1.1 .7 .3-.2 1.1-.7 .9 .8 .5 .2 1-.7 .5-.7-1.1-.8-.3-.6 .5 .5 .6 1 .4 .4-.9 1.1 .2 .7 .5-.4 .7-.4 .8-.8 .2M56.1 119.6l.9-.8 .4-.7 .7 .3 .3-.8-.5-1.2 .7-.6 1-.7 1 .4M70.6 127.1l0-1-.2-1.1 .4-1.2 .2-.9-1.3-.1-.8 .9-.6 .9-.5 .9 0 .7 .5 .5 .7 .5 .1 .9 .8 .3-.6 1.2-.7-.2-.4 .9 .3 1.1-.4 1.1-1 .1-.9 .1-.5-.7M68.8 104.5l.9 .7 .9-.9 .8 .8 .8 .2 .9-.7 .9 .1 .8-.9M73.6 101.3l-.1 .7-.8-.2-1.1 .4M61.1 103.5l.1 1.2-.6 .6-1-.7M60.4 103.8l1.2 0 .8-.8 .4-1.1M60.1 126.2l.8 .9 .2 .6-.8 .5-1.1 .6-.4 .6 .4 1.1 .9 0 .5-.8-.8-1 .5-.6-.5-.9 1-.5-.1-1.2-1 .1-.7-.6-.5-1.1-.8 0-.6 .5 .2 .7 .8 .7 .9-.3-.1-.8-.7-1.1-.8 .1M68.8 97.2l-.9-.3 .3-1.2M67 94.1l-.6 1-.7 .8-.5 1.2-1.2-.5M62 98.1l-1.1 .3-.7-.6-.5-1.1 .4-1.2-.2-1.2 .7-.4M52.2 105.2l.9 .6 .7-.2 1.1 .5 .9-.4 1.1 .5 .7-.7 .9-.9-.6-.8-1-.1 .3-1.2-.9-.1-.8 .4M75.8 107.4l-.5 .8-1.1 .4 0 .8 .6 .6-1 .8-.8-.9-.2-1.1-.5-.6M73.8 109.4l-.3 .7-1.2-.4-.5-.7 .5-.7 1 .2M55.7 105l.2-.7 .8 .2 .1-1.2 .4-1-.7-.9-1-.4-.9 .6-.9 .1M62 120.5l-.1-.7 0-1.3-.7-.4-1.2 .3-.4 .7 1.2 .5 .7-.5 .7 .6 0 1.2 1.1 .3 1 .1 .1-.8-.4-.8-.8-.7-.6-.6-.9-.6 .1-1.2 .6-.8 .8-.9 0-1.1 1.2-.3 .2-.7-.7-1 .9-.9 .6-.6 1.2-.1 .7-.3 .4-.9-.6-.6M69.7 130.3l-.3-.8-.6-.9-.8-.2-.9-.3 .3-1.2-.6-.8-.6-.4-1.2-.6-1 .3-.7-.3 .3-.8M60.7 127.5l.2-.8-.7-.8-.9 .2-.8-.6-.7 1-.7-.1-.7 .1 .1 1.2-.7 .8 .5 .6 .7-.2 .8-.6 .9-.1-.2-1.3-.7 .2-.7-.6-1.3 .2 .3 1.2-1 .7-.8 .6-.3 .6M59.4 119.1l-.6 .9-.1 .9-.9 .5-.5 .9-.9-.3 .2-1 .6 .2 1.1 .1 .7 1 .3 1-.2 1-1.1 .8 .6 .6-.3 .6-.8 .1-1-.6-.9 .4-.2 1.1-.3 1 .3 1-1.1 .4-.3-.8-.3-.9-.8-.8-1 .3-1.1-.7-.4 .8-.6 1.1 .7 1 .9 .5-.3 .7 .1 .8M76.4 103.6l.5-1 .1-1.3 .8-.4-.4-.9 .2-.9-1-.2-.2 1.2-.5 .7-.4 .7 .5 .7-.4 .9-.9 .3-.8-.6-.4-.9-.1-.8 1.1-.2 1.1 0 .1-.9-.8-.9-.7 .7M68.8 102l.5 1 1.2 .1M63.2 102.6l.3 .8 1.1 .2 .4 .8 1 .7 .3 1.2-1.2 .4-.7 .5-1-.1-1-.4 .3-1.1-.9-.7-.5 .9-.5 1-.9-.7-.7-.3M61 103.8l.2 1.1 1.2-.1-.1-.8 .8-.2 1.1-.3 .9-.4 .1-1.2M68.2 100.6l.4 1.1-.6 .9-1.1 .3-.3-1.2M70 95.5l1.2 .2 .7 .2 1-.2 .2-1.2-.1-1.1-.9-.3-.5 1-.7-.1M61.7 101.9l-1-.6 .4-.9 .8 .1M61.5 102.6l-.9-.8-.7 1 .4 .9M55.6 106.5l-.8 .3 0 .8-1.2-.2-1.2 0 0-1.2 .2-.9M54.5 103.9l.9 .9 1.2-.3-.3-1-.1-.8 1-.2 .3-.9 .5-.7-.6-.4M70.1 99.7l.7 1.1 .8-.4 .7-.6 1.2 .3M55.9 116.5l.8 .1 0 .9 1.2 .2 .6 .7 .4 1-.9 .4-.9 .3-.9 .7M58.1 128.6l.1-1.2 1.3-.1 1.2 .4 .7-.4 1.1 .6 .9-.7 .1-.7-1-.1-1.1-.2 .3-.8 1.1 .2 .7 .1 1.1 0 .5 .6-.7 .5-1.2-.2-.7-1 0-1.3 0-1.1 0-1-.2-.8-.1-.8-.7-.4-.7-.2-.2-.8-1 .4M63.7 92.9l-1.1 .1-.5-.6-1-.4M61 107.2l-.4-1-1.3 0-.9-.5-.5 .7-.3 1.3M56.5 126.9l.7 .3 .4 1.2 .7 .9-.3 1 .7 .4 .1 1.1M61.6 94.5l-.5 1M73.5 111.3l-.5 .8-1 0-.4-.6 .2-.9 .8-.5 .6-.5M49.4 121.6l1 .2 .3 1.3-1 .2M50.4 125.5l.2-.9 1-.4 1 .1 .3-1.1 1-.4 1.1-.1 1-.2 1.1-.2 .8 .5 0 .9-.5 .8-1.2-.4-.2-.9-.7-.7-.3-.6M56.5 134.7l0-.9-.3-.7-.6-.9-1 .1-.5 1.1-.6 .8-.9-.8 .3-1 .1-.8 1-.7 0-.8 .5-1 .7-.5 .8-.3 .8 .9 .5 1.1 .8-.2 .5-.5-.6-.7 .2-1.1 .1-.9 0-1.2-.9-.8-1.3 .1-.3 .8-.6 .5 .6 1M66.4 122.7l-.7 .3-.7-.6-.5-.5-.3-1 .9-.7 .8 0 .8-.7-.9-1 0-1-.3-.6-.3-1.1-.8 0-.8-.6 .1-1 1.2 .2 .9-.5 .9-.2 .7 .9-.3 .8-.4 .9-.5 .5-.9-.1-.7 1-.8 .8-1.1-.1-.1-.7-.5-.6-.2-.8-.7 .2-.2 1M62.8 104.8l1.1-.6 .9-.3 1.3-.1 1 .6 .7 .8 1.1-.5 1.1 .1 .9-.7 .8-.5 .5 1.1-.2 1.2-.7 .6-.9-.9-.1-1-.1-.7 1.1-.5 .9 0 .5 .5M73.9 105.2l.3 1.2 .4 .6M57 113l-.1-1.3 .9-.4 .5-.8 1 0 1 .8 0 1-.7 .7-.8 .5-.7-1.1-.4-1-1 .2-.2-.8 .5-.7 .9-.1 1.1 .2 .2-1.2 .2-.9-.5-.9 .3-.7-.7-.4-.5-.8 .3-1.1-.2-1-1.1-.2M56.7 122.5l-.1-1.1-.8-.4M52.5 110.8l.6 .8-.4 .8-.7-.3 .2-.7M55.7 109.6l.1 1.3 .7 .5 .1 1-.9 .2-.7 .3-.5 1.2 .5 1.1-.6 .9 0 .7 1.2 .2-.3 1.3 .7 1 .6 .7-.7 1-.8 .2 0 .9 .7 .5 .5 .7M60.7 111.4l1.2 .1-.1 .9-.2 .9-.7 .3-.3 .9-.5 1.2 .1 .7 .6 1.1 .9-.3 1.2 0 .9-.6 .7 1.1 .4 .8-.2 1.1-.7 .9-.4 1 .1 .8 1 .1 .4-.8-.1-.9M55.5 111.9l-.7-.8-.3-.7 .2-.7-.7-.3-.6-.4 .4-.8 .3-.8-1.2-.4M75.8 121.3l-.9 0 0 .8 .4 .8 1 .2 .3 1.2 0 1-.4 .7-.8-.8-.8-.2-1 .3-.5 1-.6-.3-.8 .8-.7 0-1.1 .6 0 .9-.9 .1-.3-1-.1-1 0-1.2-.9-.2-.2-1 1.3-.3 .3-1.1M58.7 106.9l.9-.2 1.2-.5 .6-.7 .8 .9 .7 .6 .8-.2 1-.4-.1-1-1-.3-1.1 .2-.6-.7-.7-.3-.9 .6-.7-.3M60.8 105.6l.7-.5 1 0 0 1.2-1.1 .5-.7 1.1 1 .5 .6-.8 .3-.6 1-.8 0-.8 .7-.6-.5-.7 .6-.6 0-1 1.2-.2 .9-.6M66 101.1l-.9-.6-.5 .5-.8-.4-.4 .7 .7 .5 .7 .9 .9 .2M66.6 101.5l-1.2 .3-.4 1 .7 .7M58.3 113.5l.1 1.1 1.3 0 .9-.9-.6-1.1-.4-.9-1-.1-.6-.8 .9-.6 .5 .6 0 1-.9 .2-1.1 .4-.4 .9-1.1 0-.7 0-.6-.7-.9 0-.4 1.2-1.2 .3-.8-.3-1.3-.1 .1 .9 .7 .3M73.3 101.6l-.9 .9 .1 1.2 .9 .5 .8-.2 .7-.6M75.8 104l-.9 .8-1.2 0-.8 .4-.9 .8 .3 1.1 1.1 0 .4-1.2 .7-.2 .7 .8 .7 .9M73.3 108.9l-1.3-.2-1.2 .1-.9 .6-.6-.8-.5-.9 0-1.2-.7-.5-.1-1-1.2 .1-.1 1.2 .7 .3 .7-.5-.6-1.1-1-.6-1.2-.3M60.7 107l-1.2-.5-1 0-.4-.6M56.6 107l1.2 .3 1.2 .4 .9-.5 .2-1 .8-.7 .9-.3 .2 .7 1.1 0-.1 1.2 .9 .9 .9 .7 .4 .9-.9 .8-.3 1.2 .4 1.1 1.1 0 1-.8 .9-.1 .1 .8-.7 .8 .7 .6 1.1-.8-.5-1-.2-.7M73.1 119.2l-.4-.6-.3-1-.4-1 0-.9-.9-.7-.6-1.1-1-.4 .3-1.1 .9-.8M61.3 109.1l-.1 1.2-.9-.1-.6-.5 .8-.8-.6-.5-.7 .5-.8-.9M57.1 108.6l.1 .8-1 .3M65 90.2l-.7 1M66.4 95.8l.8-.4 .5-1.1-1-.3M65.7 92.3l.9-.1 .1-.7M66.2 90.9l-1.3-.1-.9 .3M64.9 117.1l-1.1-.3-.9 .4-.6 .7-1.2-.3-.8 .8-.8-.7 .3-.7 .9 .1 .9-.4 .8 .5 .4 .9-1 .6-.8 .9 .8 .9 .9 .5-.4 .7 .7 .4 .7-.7 1-.4 .9 .5 .8-.7-.5-1-.6-.8-.7 .7M54.5 107.1l-.8 1 .6 .9 .4 .6 .9-.2 .7 .4 1 0 .8 1-.3 .7M57.3 115.4l-1.2 0-.1-.7 .3-1.2 .8 0 .8 .8-.5 .9-.7 1.1-.7 0-.7 .8M55.8 118.1l.6 .6 .8-.5-.1-1-1.2-.3-1-.6M57.2 116l-.6 .7 .4 .9 .5 1.1-.3 1-.1 1 .8 .4 .9 .8 .4 .8-1 .5-.2 .9 1.2 .2 .8-.9 1.2-.1 .8 .1 .1-1-1-.1-.4-.6-.7-.7-.8 .3-.8 0-.3 .8-1.2-.3-.5 .9-.1 .7 .6 .9 1-.9 .1-.9 .8 .1 .4-.9-.2-.8 .1-1.3-.2-.7M65.1 117.8l-.9 .1-.6 1-.1 1.1 .1 .9 1.3 .1 .9-.2 .5 .7-.4 .9 .9 .6 .8-.1 0 1.3 .1 1.1-.3 .8 .7 .8 1.1-.3 .8 0 .7 1.1 .8 1M65.3 120.8l.7 1.1 .7 .5-.6 .7-1 .8-.9-.1-1-.1-.7 .9 .4 .6 .7 .2 .6-.5 1-.8 .8 .9 .5 1.1 1.1 .5 .5-1.1-.7-.9 .5-.6 .7 .5 .6-.6 1 .6 1.1 .4 1-.1 .6 1.1 1.1 0 1.1-.4-.1-1 .8-1 .8 .6 .3 1.1-.2 .8-.8 0M68.2 98.8l.5 1.2 .9-.4 .3 .8 1.1 .7-.4 .8-.9 .7-.3 .6-.1 1.1-1 0-.9 .2-.7-.1 0-1.3M53.1 126.6l.3 .8 1 .5 1.2 .5 .9-.7 .5-.5 .7-.3 .5-.7-.2-.7 .8-.9-.1-.7 .4-.6 .7-1.1 0-.9-.1-1.1 1.3-.1 1.3 .3 1.1-.3 .9 .5 .6 .7 0 1.1-.6 .8-.9 .3-.6-.6-1 .8-.4 .6 .4 1.2 1.2 .5 .8 .5 .9 .1M73.3 124l-.8 .2-.7-.7-1-.1-.5 .7 .6 .6 .7-.1 .9-.4 1-.1 1 .5 1.1 .4 .6-.6-1-.8 .4-.8 1-.1 .2 1.3 .5 .6-1.2 .2-.6 .4-.7 1-.4 1.1-1.2-.1-.7-.7-1.2-.3M71.1 123.6l-1.1-.2-1 .2-.4 .9-.1 .7-.8 .5-.7 .5-1.1-.7-.8 .6 .4 .9 .9 1 .8 .3 1.3 .2 .7 .1 .8 .6 .6-1 1 .1 .7 1 .1 1-1.2 .4 .2 .9 1.1 0-.7 .3-.4-1-.6-1.1-.6-.7-1-.2-.3 1.2-1.2 .4-1-.3M56.4 118.3l-.4-1 .1-.8 1-.4 .5 .6 .8 .1 .2-1-.8-.2-.8 .3-1 0-.5 .4-.3 .8-1.2-.1 0 1.2 .7 .6 .4 .6 .7 .8-.8 1-1 .5 .6 .8 .7-.4 .1-.8-1-.4-.5 .9-.9 0-.7-.4-.7-1-.9 .7M67.7 124.7l.6-1.1-.6-.6 .2-.7 .9 0 .4 .7 .7 .8 .5 1.1 1-.5 .7 .7 1.2-.2M63.2 128.3l1.2 .1-.2 .8-.9-.2-.8 .6-.5 .7-.7-.5-.6 .6-1.1-.4-1-.1-.6 1-.8 .1-1.1-.5-.9 .1-.7-.8-.7-.2-1.1 .2-.3 .9-.8 .3 0 1.1-.6 .9-.8-.3M48.2 128.8l.7-.6 1.1 .3 .6 .6M54.1 106.3l.4-.6 .7-.4-.3-1 .2-.8-.2-.9 .9-.3-.1-.8 .6-.9-.7-1-.4-.8-.5-.6 .6-.6M68.2 111.6l.6-1.1-.4-1.1-.4-.7 .2-.8 .3-1.1 .7-.6-.2-.9M65.9 125l0 1-.1 1 1.3-.1 0 .7-.1 1.2-1.2 .3-.6-1.1-1.3 .2 0-1.1 .8-.3 .7-.4 1-.7 1 0 .7-.4 .6-.6 .7-.8 .4-1 .1-1 .1-1.2 1-.2 .7 .6 .8-.3-.1-1.2 1.1-.3 .3-.7 1-.3 .1-1.3 1-.7 .6 1-1 .8 .3 .9 .1 1M51 115.3l-.6 .5 .4 1-1.3 .4-.3 .8 .9 .5 1 .4 .8-.8-.3-.8 0-.8-.3-1.2 .4-1-.9-.5-.4-1.2 .4-1.2 .9 .3 .3 1 .8 .9 .1 1.3-.8 .6-.8 .2-.8-.2-.6-.9-.8 .1-1.1 0M59 120.1l.7-.9 .2-1.3-.5-.5 .2-1.2 .8-.4 .8 .1 1-.7 1.1 .6 .8 .8 1 .2-.2 1.2-.8-.1-1.2 .3-.4-1.1 .7-.5 .7 .1 .7 0 .8-.2 1-.6 1.2 .1 .1 .8 .5 .8 1.2 .2 .5 1-.1 .8 .8 .9 1.1-.6-.1-.8 .8-1-.5-1.1-.3-.7M70 112.7l.9-.2 .3 1 1 .4 1.3 .2-.3 1.2-.5 1.1-1.1 .1-.6 1.1-.6 .4-.5 .5-.5 1.1-.3 .9-.9-.3-.1-1.1-1.1 .1 .1 .7 .9 .5-.3 1-.2 .8-1.1 .1-.4-1.1 .4-1.2-.2-.8-.8-.1-.1-.7-.1-.8" stroke="#aa41a2"/><path d="M70.1 101.6l-1 .7-.8-.7 .2-1.1 .2-.9 1.1 .1 1.2 .6 .9-.9 .7-.5-.3-1 .6-.4 1 .8 1-.3 .8-.3-.1-.9 1.2-.2 .2 1 .2 .7 .4 1-.7 .2M62.5 112l-1.1-.6-.5 .5-.7 .9-.9-.1 .1-.8 .6-.4-.4-.7-.9 .5-.8 .3-.3-.8-.8 0-.9-.9-.7 .2-.7-.4 .6-.8 .8-.4 .9 .5 1.2 0 .2-1.2M35.5 130l-1.2-.1-.5 .8-.4 .9 .6 .7 .4 .7-.8-.6-.7-.5-.6 .8-.1 .8-.8-.6-.2-1.1 .6-.5 .9-.3 .4-.8 .8-.5 .8-.3 .9 .1 0-1.2 1-.7 .7 .8 .6 .6 .1 1 .5 .6-.5-1M36.9 102.7l1.1-.3 .9 .3 1 .3 .6-.6 1.1 .6 .4 1.1 .4 .9-.2 .7 0 1.3 .8 .5 .6-.6 .7 .2 .3 1.1-.7 .5-.6-.7-1-.8-.7-.8-.6 .3-.2 .8-.9 .1-.2-1.1-1.1-.3-.9 .3M35.6 104.9l.8 .3 .3-.6 1.1 0 .5-.9-.9-.6-.8 .1-.7-.8-.6-.6-.1-1 .2-.7 .7 .1 .7-.6-.1-.7 .5-1.2-.1-.9 .3-.7 .2-1.1-.1-.8-1.1 0 .1-1.2-.9-.3-.8-.2-.7-.8 .3-.8 1.1 .2 .8 .1M45 94l.7-.1 .2 1-1.1 .3-.2-.9-.7-.2-.8-.1 .2-.7 .6-.7 1.1-.2 .9 .3 .2 1.3 0 .9-.8 0-.8-.4 .3-.7-.3-1.3-.7-.7 .6-.9-1-.8 .5-.7 1.2 .2 0 1.2 .3 .9-.6 .9M70.1 113.9l-1.2-.3-.8 0-.2 1.2 .9 .3 .7-.9-.2-1.1-.8-.9 .6-1 .5-.5 .8-.6 .8-.3 .2 1-1.1 .7-.8-.7-1 .5-.6-.8 .9-.7 .2-.9 .7-.6 .8 .2M52.7 105.1l-.5 .7-.9-.7M43.6 117.3l-.8 .3-1 .3-1.3 .2-.7 .5-.6 1.1-.8-.2-.5 .7-1.1-.1 .6-1 1 .1 .3 .8-.7 .4-.6 .6 1.1-.4 .9-.2 .7 .1 .9 .9 .7 .6 .6 .8-.7 .5-.8 .8-.9-.1-.4 1.1 1 .7 .7-1 1 .1 .2 1.2-.4 .7 .6 .5 .8-.8M69.1 130.1l.5 .6 .8-.8 .7 .7 .2 1.2 .1 .8-.9 .7-.5 .6-.7-.3-.3-.7-1-.2-1 .3 .5 1 .8 .5 1.2 .5 .1-1 1.1-.3 .6-1.1-.9 .8-.8 .7-.6-.4-.4-1-.1-.9M78.3 113.4l.2 .9 .9-.1-1.2 .5 .3 1.2-.4 1.2 .5 .7-1.2 .5-1.2 .6-.8-.1-1.2 0-1.1 .4M78.7 102.5l-.9 .3-1.1-.5-.6 1.2-1 .2-1-.7-.7 .8-.6 .5-1.2-.6-.8-.5 .1-.8 .7 .1 1 .3 .6-.7 1.2 .2-.2 .8-.7-.2-.6 1.1-.6 .7 .7 .7 .9 .4 .5-.8 .7-.7-.6-.7-.7-.8-.5-.7-.4-.6M68.9 116l-.7-1.1 .5-.6 1-.1 .1-.9 .2-.9 1.1-.4 .2-.7-.5-.9 1-.8 .2-.7-.8-.7 .4-.6-.6-.6 .4-.8-.5-.6 .6-.9 1 0 .4-.6-.6-.5-.6-.4 0-1.2 .7-1.1 1-.7 .9 .3 0 1.1M38.9 113.2l.5 .6-.3 .7M42.4 92.5l.3-1.1 0-.8-.3-.7 .7-.2 .5-1-.5-.6-.6 .5-1.1 .6 .1 .8M46.4 125.2l-1.2-.5-1.1 .1-.8-.8-.7 .9-.8 0-.2 .7-.3 .7-.9 0 .1-1.1-.1-.8-.5-1 .9-.8 .2-.7 .8-.8 1.1-.3 .8 .7-.2 .8-1.1-.3-.3 .7-.7 .6-.6-.7-.7-.7M49.1 121.5l.7-.2 .8 0 1.1-.1 .6 .5 .8-.3 .2 .8 1 0 1.2 .4 .3-.7-.7-.8-.8-.6 .5-1 1.3 .1M36.9 112.9l-.3 .9M79.2 103.9l.2 .9-1.1 .6 .1 .8 .4 1.1-1 .7-1.1-.1-.8 .4-.7 .3-.5-.9-1.3-.3-.7 .3-.5 1-.7 .3 0 .8M74.8 103.8l1.3 0 1.2 0 1.2 0-.1-1-1.1 .2-.8-.1-.7-1 0-1.1-.7-.1-.6 .7-.9-.1M49.8 103.6l-.1 1-.2 .9 .9 .6 .3 1.2 .7-.1 1.1 .3 .7-.7 .9 .4 .8-1-1-.7M65.3 91.2l.6-.7 .7 .6M54.5 112.3l.9 .5 .7-.4 .8 .6 1 .6 .6-.4 .5-.9-.5-.9-.8-.3-.3-.9 .5-1 .1-.7 1-.4 1.1 0 1.2 .1 0-1.3 .4-.9 1.2 .3 .6 .4 .5 .7 .5 1.2 1.2-.1 .6-.5-.5-.6-1-.1 .1-.8-.6-.7-.2-.9 .2-.7-.9-.4-.4-.7M46.9 130.2l.3-.7 .4-.7-.1-.7-.8 0-.1-1.1-.9-.7 .5-1-.1-1.1 .7-.6-.5-.7-.9-.6-.1-.8-.5-.7-.3-1-1.2 .2-.9-.4-1 .2-1.2 .2-1.2 .1-1.1-.1-.9 .3M74.6 107l.9-.7 .8-.6-.6-.6-.8 1 .7 .6 .9 .6 1-.3 1.3 .2M51.1 97.1l-.6 1.1-.3 .9-1.2 0-.5-.6-1.1-.4-.7 .2-.4-.7-1-.7-.5 .5-1.3 .3-.7 .8 .3 1.2 .1 1.2 1.1 .2 .1-1.1 .8-.4 1.2-.4 .2-1.1 .3-.9-1-.5-.8 .7 .9 .9-.2 1-.7 .1M58 90.7l.7 .3 .5 .5 .7 .4 .9-.8 .3-1.3 .9-.5 .9-.6 .7 .3 .7 .5 .8-.3 1.1 .6 .7 .2 .2 .9-1 .4-.9 .4-.1 1 .1 .7 .8 .7 .4 .8M64.2 133.8l-.9 .5-.7-.3-.9-.8-.7 .1-.2-1-.7-.4-.5 1 .4 .6 .3 .8-1 .4-.5 1 .1 1.3-1.2 .3-1.1-.1-.7-.5 .2-1.2 .4-1.2-.8-1-1.2 .3-.3-1-1-.4 0-.8 .8 0 .7-1-.5-.8-.5-1-.5-1-.4-.8M43.9 106.5l-1 .7 .3 1.2-.2 1.2-.9 .9-1.2-.2-.7 .9-.8 .8-.7 1-.6 .6 .1 .8 .1 .7 .2 .8 .3 .9 .2 1.2 1.2-.3 .9-.4 1.2 .2 1-.2 .1 .7-.2 1.1 1 .2 .9 .9M49.3 93.9l-.8-.5-.8-.5 .1-.8 .9-.1 .9-.6 .7-.4-.3-1.3-.6-.5-.2-1-.6-.6M74.9 103.4l1.1-.3 .3-1.2 .4-1 1.1 .3 .2-.9-.3 .8-.5 .9 .2 1.1-.8 .4-.8 .5M36 102.2l-.8-.5-.6-.6-1.2 0-.9 .7-1-.4-1.2-.2-1.2 0-.1 1-.3 .6-.8-.1 .6 .5 .7 1 .7 .8 0 .9 1.1 .6M32.2 108.7l-.4 1-1.1-.1-.7 .4-.8 0 .6-.6 1-.4 .7 .1 .2 1.1-1 .4-1.2-.2-.6-1 .5-.5 .9 .4 .8-.5 .9 .6 .7-.5-.1-1.1-1-.8-.8-.2-.8-.1-.2-.6-.4-.8-.7 .4-.5-1.1 .6 1-.8 .9 .7-.8 1.1-.6M74.7 97.1l1.1-.2 0-.7-1.1-.6 .2-.8-1.1-.3-.9 .8-.9-.7 .1-1.2 .9-.4-.7 0-1.3 0-.6-.7 .4 1 .7-.4-.5 1-.9 .7-.8 .2-.5 .9-1 .1-.7-.4-.8 .1-1 .5 .2 1.2 1.1-.3 .9-1 0-.7 .6-.7 1.1 .2 1.1 0 .7 .5 1-.4 .7-.2M43.6 127.7l-.9 0-.1-1.1 1-.5 1.1 0 0 .8-.7 .5-.1 1.2-.4 1.1-1.1-.1-.4 .5-.4-1-.7 .1-.2 1.1 .3-.8 .6 .3 .8-.9 .6 .5 1 .2 .9-.4 .7-.4-.3-.7-.7 .1-1.1-.5-1 .5-.9-.4-.7-.3 .2-1-.8-.2-.5-.8 .1-.8M44.7 93.4l-.4-.8 .6-.8 .6 .4 .8 .2 .9 .7-.3 1 .2 1.2M41.8 96.2l-.8 0-.6-.6-1.1-.6-.7 .5-.7 .9M40 101.2l-.7 .3-1 0-.9 0-.9-.8 .7-.7-.4-.6-.9 .4-.6-.9 .2-.9 .8-.3 .6 .4 .3 .8 .1 .9 .7 .9M71.7 113.9l.8 .1 .4-1 .3-1-.4-1.2 .6-.8 .3-1.2 0-1 .2-.7 .1-.7 1.2 .1 .3-.8 .8-.6 .5-.8-.3-.9-.7 .2-.2 .7 .4 .7 .8 .6-.7 .9M53.1 86.6l1.1-.3 .9 .8 .8-.7 0-.9 .9 0 .4-1.2 .1-1.1-.9-.5-.6 .5-.9 .4-.2 1.2-.6 .6 .6 1 .8-.3 0-1.2-.8-.2-1.1-.5 0 1 .3 1.3-.9 .8-.7 .6 .2 1.1 .9 .2 1.2 .4 .8 .8 .6-.3 .8-.7M36 94.4l-.1-.8-.9-.9-1 .1-.7-.1-.3 .7-1.2 .2 0 .8-.8 0 .4 .9-.3 .7-1.1 .3 .2 1.2 .8 .6 .8 .7M73.8 108.6l0 .8M30 101.9l-1.1 .2-.6-.7-.2-.9 1-.1 .6-1 .4-.8-.3-1.1 1.1-.6 .1-.8 .5-.5 1 .3 1-.3 .7 .3M47.5 116.5l-1.1 .4-1.2-.2-.7 .6-1.2-.5 .2-.8 .8-.6 .5-.7-.6-.7-.6-.7-.9-.5-.3-1-1.2-.2-1.2 .3-.2-.7 .1-1.3-.3-1-.6-.4-.7 .3-.4 1-.8 1-.9 .2-.4-1-.2-1.2 .4-.9M48 126.5l-.3-.8 .4-1.2 .3-1.2-.1-1 1.1-.7M70.5 103.1l0-1 0-.9 0-1.2 .5-.8 .7 .5 0 .9 .8 .2 .9 .6 .8 0M59.8 128.7l-.9-.7 .7-.8 1.1-.3 1.1-.7 .9 .2 1.1-.1 .7-.5 .8 .6 .9 .7-.4 .7 0 .7 .4 1-.9 .7-.8 .4-.8 .2-.7-.9 .4-.7 1-.5 1.2-.6 .7 1-.5 .9-.8-.1-.7-.8-.3-.8-1 .2-.6-.6-.8 .1-.1 1.1-1.2-.2-1 .4 .3 1.2 .5 .5M72.5 101.3l1 .1 .7-.7-.6-1-1.2-.3-.7-.5-1 .3M46.9 117.6l.1-1-.8-.7-1 .5-1.3 .2-1.1 .4-.3-.9 .4-.8-1-.6-.7 .7 .2 .8-.9 .4-.9-.8-1 .7-.8-.1-1.1-.1-.7-.6 1.2 .2 .8-.9 .1-.7-.7-1-1.1-.1-.1-1.1 .4-1.2M73.5 100.1l.5-.9 1.1 .7 .7 .3 1 .2 .3 .8 1.1 .5 .4-1-1-.6-1.2-.4-1 .8 0 .7 .8 .1 1.2-.2 .9-.8M68.2 95.7l1 .1 .4-.8 0-1.1-1.2 .1-.6-.7-.8 .8M50.5 89.9l.2-.7 1 .2M41.8 127.3l-.3-.8 .8-1 .8 .3 .1-.9 .5-1.1 .5-.7 .3-.9 .2-.8-.7-.2-.5 1-1.2 0 0 .7-.6 1 .1 1 .6 .4 1-.2 .1-1-.9-.9 .5-1.1 1-.4 .4-1 .6-.5 .5 .8 1 .6 1 .2 .8-.9 .9-.7 .9-.3 .2-1.1M57.4 87.6l-.9-.7-.5-.7-1-.1-.2 1.2-1.1 .5 0 1.2-.1 .8-.8 .3-.2 1.2-1.1-.2-.4 .9-.5 .6-.9-.3-1-.3-.2 1.2-1.3 .1-.9-.1-.7 .4-.1 1 .2 1.1M32.1 108.4l.8-.9-1-.8-1.1-.1-.6-.4-.3-1 .9-.6 .8 .7 .4 .7 .6 .8 1.1-.7-.2-.9-1.3-.2-.2-.8 1-.7 1.1 0 .8-.5 .9-.8 1 .2 .8-.3 .6-.7 .6-.6M39.3 101.5l-.4-.6-1.2 .5-.7-.8-.3-.9-.4-.7-.3-.8-1.2 .1-1.2-.2-.9 .5-.4 1.2 .8 .8 .4 .8 .9-.4 1.2-.4 .2-.7-.5-1.1-1-.3-.2 .7-.8 .6 .3 .9M50.2 88.2l-1.1 .6-.9-.4-1-.5-.5 .9-.8 .8M55 119l-1.1 .6-.6-.4-.6-.3-.8 1-.4 .9-.2 .9 .6 .7-.5 1 .2 .7 .9 .6M42.5 97.9l.3-1.2 .7-.5-.1-.8-.7 0-.9 0-.9-.2-.2 1.1-.6 .8-.8 .8M75.8 112l.2-1.3 .7-.4 1.2-.2 .2 1.2-1.1 .2-1.1-.2-.9-.5-.1-1-1.1-.1-.2-.8-.3-.8-1.1-.2-1 .3-.4-.6 .5-.6 .3-.9 1.2-.6 1 0 1 .3 .7-.6 .8 0 .8 .8 1.1 .6 .6-.6 .6 .6-.7 .8-1.1 .3-1.2-.4 .5-1.1 .7-.1 .4 1.1M79.7 108.9l-.3-.8 .5-.6-.2 1-.3 1M33.5 95.9l1.2-.1 .2 1.1 .5 1 .9-.3 .9-.3 0-1 .9-.1 .9 .4 0 1-.7 .5-1 .5-.7 1-.3 1 1 .3M75.3 113.4l-.6 .8-.8-.3-.8 .3 .2 1.2-.7 .2-.9 .9-1.2-.6 .5-.7-.7-.5-.5-.5-1 .2-.7-.4-.6 .7 .5 .6 1-.5 .5 .6-.4 1.1-.6 .6-.7-.3-.5 1.2M30 98.4l1.2 .2 .1-.8-.5-1.1-1.2 .2 .6 .7-.6 .9 1.1 0 .9 .9 1-.4 .9 .9-.1 1-1 .3 0 1 .4 1-.7 1 .9 .5 .1 .8-.6 .9 .4 1.2 .6 .2 1 .2-.2 1.3-.6 .3-1 .4-.5 .4M56.2 86.1l-1.3-.1-.9 .5 .3 1.2-.8 .5-1.1-.3-1.2 0 0 .9M36.6 112.3l-.5 .8-.7-.3-.7-.3M31.2 96.8l-1 .2-.8 1-.4 .7 .8 .7-.6 .8 .5 .6 .7-.5 1 .4M53.1 124.5l.8 .6 .6 .8 1-.2 1.1 .7 .7-.6-.1-.9-.7-.6-.4-.9-.7 .2-.8 0-.9 .4-.7 .7-.9-.4-1.2-.5-.3-.7-.7-.7-.8 .3-1 .5-.7-.1-.9-.9-.6-.5-.5 .7-.7-.3 .4-.6 1.1 .3 .7-.3 .6-1.2-.1-.8-1.2-.1-.8 .6 0 1.2M51.9 137.1l-.6-.5 .3-1-.8-.9-1-.7-1.1-.1-.8-.1-.3-.7-.9-.3 .1-1-.9 0-1.1-.5-.7 .9-.5-.8-.9-1 .8-1 1.2 0 .2-.7 1.1-.2 .8 .2 1.1-.6 .7-.3 .5-.7-1-.9 .6-1M73.3 105.1l.4-.9 .2-.7 .8-.6-.5-.5-1 .1-1.1 .1-.1-.8-.9-.3-1.2 .1-.3-1 .5-1.1M66.7 91.5l-.5-.6M54 129.8l-.1 .9-1.1 0-1.2 .3-1 .2 0 .7-.5 .9-.3 1 1.1 .3 1.2 .1 .2 .9-.1 .9M60.7 125.8l.4 .6-.6 1 .4 .8 .8-.3 1.1-.3 1.2-.3 .1 1 .8 0 .7 .3-.2 .7 1.2 .4 1.1 0 .7 .3 .9-.2 1 .6 .2 .8 .6 1.1 .9 0 .2-1.3-.1-1 .7-.3 .9-.1 .8 .8-.7-.3-.5-.9M40.1 92.7l-.3-1-.7-.6 .3-1.1-.2-1.2 .1-1.3 .8-.1 .6-.2 .3 .8 1 .3-.2 1.1-1.1 .2-.9-.1M51.7 89.9l.2-1.1 0-1-.6-.8-1-.5M53.6 125.3l-1.3 .1-.8-.9 .3-1 0-1.2 1.1-.7 .4-1.2 .5-1.1-1-.9 .1-.8 .8-.3 .2-.9-.6-.8 .8-.8M70.9 123.3l.7 .4 0 .8-.3 .9 .4 1 1.2-.3 .5 .7-.8 .8-1 .6M48.1 126.9l.3-.9-.8-.4-.8-.9-1-.2-1.2 .6-.9-.8 .6-1 .8-.2 .7-.8 .4-.9-.9-.4-.6-.5-.7 .7-.2 1-.3 .9 .2 .7 .9 .8 .7-.3 .9 .7 .6 .3 .8-.7 .1-1.2 .7 0 .5 1.1 .1 1.1-.2 .9-.2 .8M66.5 101.7l-.5-.6M57.9 82.9l-.4-.8 .3-.8-.2 .9 1.2 .2 .8-.8 1.2 .2 .1 .7 .1 1.1-1.1 0-.3 1.1-.6 .8-.9 .7 .7 .7 1-.7-.7-1.1-1.1 .2 .1 .9-.4 .6-1.2 0M73.3 124.9l.8-.3 1 .6-.1 1 .7 0 .7 .1-.6-.4-.5 1 .6 1.2-.5-.9-1.2-.4-.7 .3-.4 .9M40.9 102l.2-1.1-1.1-.4 .4-1.1 .6-.5 .9 .5 .3 1.2 .6 .3-.3 1.1 .9 .5-.1 1-.2 1.3 .9 .1 .7-1.1 .6-.6 1.1 .6 1.1 .6 1-.6 .3 .8-.3 1.1-.8 .1-.7 .3-1.1 .5-.6 1.1 .4 1 .5-1.1-.1-.9 .9-.8M78.5 104.8l-.7-.4-1.2-.2-.9 .7 .3 .6-.4 1-.7 1.1-.8 .3-.1 1-.7 0M72.1 115.8l.5 .9 .9-.2 .4-.6 1-.6 .4 .6 1.1 0-.1-.8-.5-1.1-.7 .3-.2 .9 .9 .6 .6-.3 .7 .7 .7 .4-.3 1.2 1.1 .4 .6 .9-.9-.4M72.7 103.9l.7 .5 .5 .8M57.3 135.3l.5 1.1 .9 0 .1-.8-.2-1.1 1-.4 0-.9-.8-.3-.8-.6-.7 .4-.7-.8-.4-.9-1-.5-.4 1-1-.5-.3 .7-.8 .1-1 .4-.9-.2M42.8 95.1l.9-.8M47.1 86.4l-.4-.7-.7 .1-.8 .9-1.1-.1-.9-.4-.7 .5-.6 .4-1.2-.1-.7 .7-1 .8-.8-.5-.6 1.1-1.1 .4-.7-.3 1.3-.3 .3-.9 .8-.7 .2 1 .7 .4 .8-.8 1.3 .1 .8 .6 .4 .7 .1 1-.9 0-1.2 .4-.7-.3-.9-.4-.7-.9-.7 .4 .3 .8 .4 .8M33.8 101.6l-.7-.4-.8-.1-.8 .1-.9 .4-.8 .3M68.7 120.1l.2-.9 .7-.2 1-.1 .3 1.2 .9 .4 .6 .6 1-.8 .5-.6-.3-.7 .6-.4 1.1-.6 1 .5 1-.3 .6 .6 1-.2-1.2 .4-.6 1 .5 .6 .8-.8 .8-.5 0 .9-.3 .9-.4 1.1-.2 1.2M40.8 117.5l.5-1-.1-.8 0-1.3-1.2-.1-.9 .6-.2 1.1-.2 .9 0 .7 1.2 .3 .4-.9 .6-.4 .5 .6-.7 .6-1 .5 .3 .9-.6 1-1.1 .2-.1 1-.1 .7M54.9 116.3l-.5-.6-.6-.4-.4 .7 .6 1.1 .3 .8-.4 .6M55.1 85.1l-.7-.2-.4-.8 1.2-.1 0 .8-.1 1.3-.8 .7-.8 .2-.6 .5 .7 1 .1 1.1-.1 .8 .4 .8-1.1 .7-.5-1.2-.4-.7 .5-.4 .8 .2 .8 .9-.3 .7-.9 .8-.9-.3 .5-1.1 .9-.7 .9-.7-.1-1.1 .7-1.1 1-.4 .9 .7 1.1 .2M67 133.8l.7-.4 .3-.7 1-.2 0-.8-.5-.9 .1-.7-1-.5-.9-.2-1.1 .6-.4 1 0 .9-1.2 .5-.5 .6-.9 .1 .3 1.2 .5 1.1 .8 .9 .6 .5 .6-.9 1.1-.6-.3-1-.7-.7-.8 .3-1.2 .4M31.8 111.4l.3-.9 .8-.2 .7-.1 .8-.1 .5 1 .9 .9-.9 .9 .7 .9-.2 1.1 1.3 0 1-.1 .6 .6 .9-.8 .1-.7-1.2-.5-.2-.8-1.3-.1-.8-.6-.8 .6-.4-.5-.6-.5 .5-.5 .9 .7 .1 .8-.6 .8-.4 .7-.8-.9 .4-.8-.2-.8-.5-1M45.3 114.4l.7-.4 .8-.3 .3 .7 1.1 .2 .7 0 .8-.4 .7 .5 .5 1 .5 .6 .5 .6 1.2 .1 .7-1.1-.5-.6-.9 .7-.7-.5-.9-.2-.7-.5-.9-.5-.8 .2-1.1-.3-.1 .9-1 .3-1.2-.5-.8 .6 .4 1.2 0 1.2-.5 .8-.8 .2-1.1 .3-.6-.5M59.3 92.6l.7-.3-.5-1-.7-.2-1.2 .5-1.2-.5-.8-.1-.1-.9-1.1-.4-.4-.7-.7-.2-1 .4-.6 .4 .8 .9 .8-.3 .5-.7-.3-1.2 .3-.8-.1-.8 .2-.8 .9-.2 .5-1.1 1.2 .2 0 1.1-.7 0-.5-.9-.2-.8-1.3 0 .9 .1 .1 1.1 .2 .6M73.3 99.3l.3-.6 .7 .3 .8 .5 .7-.1 .8 .3-.4 1.1 .9 .4-.2 .9 .2 .7 .1 1.2-.1 .7 .7 .4 0 1-.8 .9-1.2 .4M42.6 91.3l-1.1 .5M43.4 116l-.9-.3-.8-.4 0-.9-1 0-1.1-.6-.4-1.1 .9-.4 .7-.4 .5-.9-1-.7-.8 .6-.4-.7-.8 .5 0 1.1 1.2-.1 .5 1 .6 .7 .2 .9 .4 .9 .7 .8-.6 1.1 .6 .7 .8 .7M56.2 84.9l.1 .9 1 0 .7-.5 1-.2-.2-.9-.6-.8 .4-1.1 .8 .3 .8 .2 .4 .6 1.1-.4 1.2 .4 .4-.7-.7 .5 .4 .8-1.3-.3-.5 .6-.4 .9 .6 .4 .6-.5 .9 .2 .5 .8 .8 .5M61.9 84.1l-.7-.5-1.2-.3 .4-1.1-.4-.7-.8 0-.8-.1 1 .3-.3 .9-.8-.4-.1-1.2 1.1 0-.1 1 .4 .9-1 .5-.9 .3-.5-1-.1-1.1 .8 .5 1.1 .3 .7 1 .7-.3 .7-.7 1.1 .6 .4 .6 1-.2-1.1 .5-.6 .8M54.9 88.8l-.7-.7-1.1-.3 .3-.9-.4-.9-.8-.7 .5-1.1 .6 1.1-.6 .8-1.1 .3-.6-.4-.6 .8-1.1-.5-1-.6-.4 1 .6 .4 .7 .2-.1 .9-1.2-.3M54.6 108.1l.8-.1 .1-1.1-.5-1-.3-1.2M78.4 100.3l-.4 .8-.1 1 .8 .2 .3 .9-1.2 .3-.2 .8 .2 .9-.3 .9-.8 0-1-.6-.7 .2-.6 .4-.9 .7 .3 .7 .5 .7 .9 .1 .3-.7-.1-1 1-.2 0-.8 .7-.8 1.1 .6 0 .8M60 106.5l-.2-1.2-1-.2-.6-.4-1.2-.1-.7-.5-.1-.9 .1-.9 1.1 .1 .4 1 .9 .9 .2 1.1 .6 .6 .6 .9-.3 .9 .7 .7-.3 .7-.8 .2-.4 .6M58.8 131.8l-.5 .6-.9 .9 .6 .6 .7 .5 .7 .4 .1 1.1-.8 .2-1 .7-1-.2 .4-1.2-.6-.7-1.2 .1 .2 1.2M55.4 124.4l-.6 .6 0 .9 .6 .5 .7 .4 .8-.3" stroke="#3caabb"/><path d="M60.4 99.5l.1-1.2 .2-1.2 .8-.1M60.1 92.3l1 .3-.1 .8 .9 .4 .7-.3-.1-.8-.7-.4-1.2 .2-.6 .8 .4 .8 .7-.4-.6-.9-.3-.8-.6-1.1-1.1 .3-.9 .4-.7-.6-.9-.7 .6-.7M56.4 106.5l-.1-.9-.9 0-.5-.6M53.7 102l-1 .4-.2 1 .4 1-.2 1 .8 .6M55.9 105.1l0-1 1-.8 .7-.4-.3-1-.7-.3-1.1-.6 .5-.8 1.1 .6 .4-.7 .9-.1 .9-.6 .8-.1 .1-1 .1-1.2-.2-.7 1-.4 .9-.7 .6-.7M62 93.8l-.8-.2-1.3 0-.3 .6M67.4 94.2l-.8 .3-.7 .5 .4 .7-.4 .7-.8-.3-.9 .3-.2 .9-1.2-.2-.4-1 1.1-.6 1.1-.4-.4-1.1-.5-1 0-.9-1.3 0-.3 .9 .1 .8-.7 1.1 .2 1.1 .8 .6 .7 .3 .6-.6 .8 .6 1.2-.5 .2 .9 .9 .1 .2-.9-.8-.3-.9 .4-.7-1-.8-.6M55.4 101.6l.7 .6 .3 .9-.8 1 .8 .9 1 .5M39.8 104.2l.7-.8-.2-1 .3-.8-.6-.4M51.5 105l-.8 .3-.6 .5M52.3 104.6l-1.2-.3 .4-1.1 .8-.1 .1 1-1.2 .1-.4 1.2-.7-.2-1.1 .3-.2 1.3M58.9 90.5l.1 1.2-.6 .8-1 0-.4 .6 .2 .7 .9 .8 .2 1.1-.4 .8-.6 .7-1-.1-.9 .7-.5-.6 .4-.6-.2-.8 .8-1.1 .9-.1 .3 .9 1.2 .3 .8 .8 .4 1.2 .4 1.1-.4 1.2 0 1.1M57.9 97.5l-.4-.7-.6 .4-.8 .2-.2-1.1-.7 .1-.7-.3-.3 .7-1.2-.1-.7 1-.8 .8-1-.5-.4-.8-.7-.3-.4 1.2-1.2-.1-.3 1.1-.7 .7 .6 1 0 .9M44.8 94.7l.9 .2 1.2-.4 1.2-.3 .7 .1 1-.2 .6 .6 .2 1 1.1 .5 .7-.9-.3-.6-1.2-.1 .1-.7 .1-1 .7-.4 .8-.4 .7 .5-.5 .7 .4 1.1M46 106.9l-.1-1.1 .2-.7-1.2-.3-.6-.6-.7 .4-.1 1.2 .4 .7M65.9 90.8l.2 1.1 .8 .2 .7 .8 .9-.2-.4-1.1-.3-1.1-.2 1 .6 .9-.7 .4-.7 .9 .6 .9 1 .2-.1 .7-.8 .6-.8-.5 .6-1.1-.8-.5-1.2 .4-.5-1.1 .7-.7 .8 .4 .8-.8 .4-.5 .8 0 .5-.5-.1 .8-.5 1.2M36.1 99.3l-.1 1.1 .2 .7 1.2 .2 .3-.7-.7-.7M45.5 90.7l-.2 1-.5 .7-.3 1 1 .5 .3 .8-.1 1.1 0 .9-.3 .7-1-.1-1-.7-1.1 .4-.8-.2-.8-.5 .4-.9-.4-.8-.8-.3 .3-.8 .8-.3 .8 .8 1-.3 .8 .4 1 .3 .6 1-.8 .7-1-.5M48.2 103.9l.9-1-.6-.5 .2-1.1-1-.2-.7 .6 .4 .7-.8 .3-.5-.6-.6-.6-.6-.4-.3-.7 .4-.9-.7-.6-.9-.8-.9-.2M60.5 103.8l.2-.9 .7-.7 .1-1.3-1.1 0-.4-.9-.1-1.3-.9-.6-.2-.9 .5-.8 .7-.9 .8-.2M39.9 101.8l-.5 .5-.8 .6-.7 .7-.8 .4-.7-.5 .4-.9-.8-.4M61.2 87.3l.9 .7 .6-.8 .5-.9-.2-1.2 1-.2-.5 .9 .3 1.3 0 1.1M53.7 89.2l-.1 .9-1.1 .7-.7-.7-1.3-.2M51.7 89.4l.7-.1 .7 .6 .2 1 .1 .9-1.1 0-.2-.7-.4-1.2M42.4 98.5l-.7 .7 .2 .7 .2 1 .7 .9 .6 1 .7-.2 .7-.7 .1-1.1-.7-.5-1-.6-.1-.9-.3-1.3 1-.3-.1-1 .2-.8-1.2-.4 .1-.8 .1-1.1-.5-.6M60.6 102.7l.5 .8M59.6 104.6l.8-.8M62.8 101.9l-.8-.7-1.2-.1-1.1 .4-.9-.8-1.1 .5-1-.4-.5-.6 .6-.9 .4-.8 1.2-.2M45.1 94l-.7-.2-1.1 .1-.7 .1-.5-.9-.9-.4-1.1 0M45.7 95.7l-.8 .1M64 96.6l-.6-.6-.8-.3 .2-1.2 1.1-.5M51 101.5l-.3-.9-.7-.5-.3-1.2-.4-1.1-.9-.2-.9 .1-.9 .8-.8-.1-.8 .8-1.1 .3-1.1-.2-.6 .4-.4 .6-.8-.5-.6-1.2 .4-.7 0-.7 1-.6 .8-.5 .2-1M43.7 94.3l1.1 .6 .9 .3 1.2-.4 .2-.8-.7-1M48.9 92.6l.6 .7 1.1-.4M50.6 102.8l.3 .8-.7 .9 .6 .7 .6-.2 .8 .2M55.5 102.8l-.9 0M47.1 95.3l.9 .1 .5 .7-.6 .4-.7 .5 .5 .6 .8-.6 .7-.7 0-1.1 .1-1.3M34.2 103.8l.3 .7 1 .3 1.1-.5 .4 .7-.3 1.1-.4 .7-1.1-.5-.4 .8 .2 .8 .6 1.1 1-.6 .3-.7 .9 .2 .5-.5 .3-.8-.6-.6-.5-.8-.9-.4-.3-1.2-.8-.9 .2-1 .1-.9-1-.5M59.1 101l.2-1.1 1.1-.2 .4 1.2 1.1 .3 1.1 .2 .2 1.2M59.2 105.8l.1-.8 .7-1 1-.2M68.2 99.5l0 1.1M66.6 101.7l0-1.1-.4-.7-.1-.9 .5-.5 .4-1 .7-.5 .1-1.1 1.3-.3 .9-.1M52.6 105.3l.2-1.3 .9-.6 .8 .5M57.4 100.5l-.3-.7-1.1-.5 .1-1.2-.6-.4-.2-1-.4-.6-.6-.5-.7-1.1-.8 0M45 102.3l-.2-.8-.7-.4-.7 .9-1 .1-.5 1-1.1 0-.6 .8-.3 .9 1 .7 .6 1.1 .8 0 .8 .1 .8-.7 .9-.8 1-.4 1.1-.2 .6-.4 .6 1 .8-.2 .4-1-.6-.5-.5-.4-.9 .1-.3 .6M35.8 99.6l.1 1.1 1 .4 0 .8-.7 .2-.7 .4-1.3 .3-.4-1.2M49.1 95.1l.6 .6 .2 1-1 .2-.5 .5-.7 .8-.1 .7 0 .8 .9 .4 1 0 .9 .1 .3-.7 .7-1-.1-.9-.8-.9-.8-.8-.5 .6 .3 .9 .5 .7-.7 .6-1.2 .5-1.1-.1-.3-.9-1.2 .5-1 .3M29.9 106.1l-.2-1.3 .2-.8 .5-.7 .5-1-.9-.4M34.2 95.9l1.2-.1 .9 .5 .5-.6 0-.7 .4-1 1 .3-.1 1M55 95.9l.6-.6 .6 .5 .6-.8 .3-.8-.8-.6-.9-.2-.4 1 .8 .4 .6 .4 .7-.6 .8 0 .5 .6-.6 1.2-1.2-.4 .3-.8 .8 .3 .5 .7 .3 .8 1.3-.1 .5 1 .8 1 .3 .9-.6 1-1.1-.3 .1-1.2M41.2 92.3l.6-.4 1.1-.6 .6 .3 .5 .9 .6 1 .3 .7-.1 .7 .5 1.1 .2 1-.5 .9-.1 1 .9 .1 .1-1.3 1.1-.2 .3-1.1M38.8 99l-.1 .8M37.3 101.6l.8 .1-.1 .9 .3 1.2 .2 1 .4 1-.8 .3M62.4 87.8l-.9 .6-.5 1.1-.7 0-1.1 0-.7-1.1-.9 .1-1 .6 .1 1.3-.8 .2-.8 0-.3-.9 .1-.9M57.7 91.7l-.6 .9-.4 .8-.9 .3-.8 .6-.5 1.1 .5 .5 1.2 .2M64 98.6l.6-1.1-.9-.5-.7 .4-.3 1.1-.4 .6 .2 .7-1.1 .4-1.2 .5-.3-.7-.7-.3-.8-.8-.7-.9-.5-.7 0-1.3-1 0-.4 1-.2 1.2-.8 1-.9 .6-.6-1-.7-.4 .2-.7 1.3 .3 .9 .9 .5 1 .1 .8 1.2 0 .7-.1 .9 0 .9-.8M45.9 89.6l-.3 1-.8 .5-1.2-.1-1 .3M41.5 91.8l-.3 .8 0 1.1 1.1 .5 1.1 .5 .7 .1 1-.3-.1-1.3 .2-.9-.9-.2-1 .4-.1 1 .7 .8 .1 1-.8 .7M51.5 106.9l-1.1 .3 .4 1.1-1.2 .6-.6-.5-1-.8-.6-1.1 .7-.4 .9 .7-.8 1-.8 .6-.3-.9-.9 .3 0 .8 .8-.2 .3-.7 .6-.6-.6-.9 .3-.8 .7-.3 .5 .8 .3 1.1 .9 .6M31.4 100.7l-.1 .7 0 .8 .8 .4 1.1 .5 1.2 .3 .7 0 .3 .8-.6 .4-.2 1.1-.2 .7 .5 1.2-.8 .6 .2 .8M57 103l-.6-.6M39.9 104.5l1-.1 .5-.8 .6-.4 1.2 .4 .7 0 .9 .3 .5-.9 .6-.7-.1-1.1 .9-.2 .8 0 1.1-.1 .7-.8 .6-.4-.3-.9-1 0-1-.4 .1-1 .6-.4M53.5 107.2l-.9-.2-.6 .8 0 1.1-.3 .6 1 .6-.2 .7M52.2 111.4l.7-1.1 1.2-.3 .9-.9 .7 .5M52.9 107l-1 .3-.6-1-.9 .2-.4-.9 .2-.9 .9-.6 .7-1 0-.9 .5-.7 .6-.9-.3-.9-.3-1-.8-.1-.6 .6-1-.2-.7-.4-.4-1.1 0-1.2 .3-1-.3-.7-.2-.9 .7-.7-.1-.7M42.5 109.8l-.2 .9M59.6 104.6l.6-1.1 0-1.1 .6-.7 .2-1.1 .1-1 .2-.7 .2-.8M57.6 95l.6 1-.2 .8-.2 1.3 .9 .3 1 .5 .6 1 1-.2 .8 .9 .9-.8 .6-.6-.1-.9-.8 0-.7 .2-.7 .9 0 .8 .2 .8 1.1 .5 .9-.4 1.1-.1 .4-.7 .1-.8 .2-1.1-.6-.8-.8-.2-.7-.9-.7 .2-.6-.8M43.4 112.8l-.8-.5-.4-1-.3-.7 .8-.4 .6-.7 1.2-.4 .2-.8-1.1-.7-.7 .2 .1 .9-.6 .5-1.2 .3-.8 .8-.8 .8-.7-.3-.5 1.2 .5 1.2M47.3 93.9l1.1-.1 .8-.4-.3-.7M50.7 92.8l.8-.2 .4 .8 .2 1.2 .3 .9-1.2 .4-.4-1-.7-.2-.2 1.3-.4 1.1-.8-.2 .3-.8-.6-.7 1-.7 .4-.9M35.3 101.9l-.7 0-.8-.2M58.1 105.9l-.5-.6-1 .7 0 1M58.4 108l-1.1-.4-.2 1M56.2 109.7l-.2-1.1 .1-.7 .2-1.2 .4-1.1 .1-.9-.8-.1-.4 .7 .9 .7-.8 .8M64.3 91.2l.4 1.2 1 .7 .2 1.2-.1 .9 .6 .6M66.7 94l-.7-.3-.5-.7 .2-.7M64 91.1l-.6-.4-.8 1-.1 .8 .9 .6-.6 .8-.9 .1-.3 .9M43.2 94.6l-.8 .2-1.1 .1-1.1-.3-1.1 .1-.9-.1-.5 1-1.2-.1-.5-1.1M29.4 108.4l-.1 1 .7-.3 .6 1.1M31.5 111.4l.9-.8 .7 .1 .8 .7 .9 .5 .8-.2 1.1 .3 1.2-.5-.2-.7 .4-.8 .1-1 0-1.2-.7-.7-.1-.8-1.1-.4-.8 .8-1.1-.6M55.4 103l-.1-.8 1-.6 .8-.5 .5 .8 .8 .3-.3 1.1-.3 1.1-1.1 .1-.2 1.1-.9 .2-1 .5-.1 .8M35.1 104.8l-.7 .3-.9-.6 .4-.8 .8 0 .2 1.1-.8 .6-.1 1 1 .8 1.2 .4 .8-.2 .6 .9 .2 1.3-.9 .3-.6 .6-.7 1.1 1 .7M34.7 112.5l.3-1.1 .9 .2 .6 .4 .4 .9M53.3 87.5l.1 1.1 .7 .3 .5 1 .7 .1 .8 .2 1.2-.2 .8 0 .9 .7 .7 1 .8 .8 .7-.6 .2-.9 .1-.7 .6-.5 .1-1.1-.9 0-.6-1-.6-.4-.1-1.2-1-.1-1.1-.2-.8 .8-1.1 .5-.5-1 .1-.9M62.9 92.6l-1 .1-.1 .8 .1 1.1 .3 .9-.1 1.1-.7 .6 .4 1.2 .8-.2 .2-1.1 .5-.6 .6-.8 .7-.2 .8 .4 .7 .1 .4 1-.7 .8 .4 .8 .7-.3 .6 .4 .7 .1M53.8 91.5l-.5-.7 .8-1M51.7 89.6l.7 .8-.7 .9-.6 .5-.1 1.3-.8 .2-.7 .8-.1 .9-.7 .1-.9-.2-1.2-.1-.7-.9-.9 .7-.7-.2-.9 .7-.9-.6 .3-.7-.5-1.1M50 96.5l.4-1.1 .4-.6 1.1 0 1.1-.7 .9-.6-.3-.8M47.7 93.1l.1 1.3-.5 .9-1-.3-.4-.9 .7-1-1.2-.5-.4 .9 1 .6 .7 .3 .1 .8-.9 .3-.9 .1-.7-.6-.6-.7-.7-.2-.7 .5-.8-.1-.6 1.1M52.9 100l.9 .6 .4 .6 .8 .2-.2 .8 .8 .4 0 .9 1 .8 1-.4 .9-.3 .7-.6 .6-.6-.6-1-.8 .1-.6-.9-.7-.5-1.1 .2-.9-.8-.9 0-.7 .6-.1 .7-.6 .9 .6 .4-.6 .9-.8 .3-.4-.9-.9 0-.7 .1 .2 1.1-.5 .9-.5 .8M64.3 86.9l-.2 .8-1 0-.9-.1 .2-1.1-1-.6-.5 1.2-.8 .3-1.1 .6-1.1-.5-.6-.5-.4-.9-.7 0M51.2 88.8l1.2 .3 .3 .8 0 1-.3 .9-.5 .9 .1 .9 1 .4 .2 .8-.2 .9M37.3 100.9l.9 .4 1-.7 .4-1.1 .1-1 .5-1 1 .2 .6-.3 0-1.2" stroke="#68be46"/><path d="M75.6 94.1l-.1 .9-.3 .6-.4 .2-.2-.4 0-.6 .4-.8 .7-.8 .9-.4 .9 0 .8 .5 .5 .9 .1 .9-.1 .9-.3 .6-.4 .2-.2-.4 0-.6 .4-.8 .7-.8 .9-.4 .9 0 .8 .5 .5 .9 .1 .9-.1 .9-.4 .6-.3 .2-.3-.4 .1-.6 .4-.8 .7-.8 .8-.4 1 0 .7 .5 .5 .9 .2 .9-.1 .9-.4 .6-.3 .2-.3-.4 .1-.6 .4-.8 .6-.8 .9-.4 .9 0 .8 .5 .5 .9 .2 .9-.2 .9-.3 .6-.4 .2-.2-.4 .1-.6 .3-.8 .7-.8 .9-.4 .9 0 .8 .5 .5 .9 .2 .9-.2 .9-.3 .6-.4 .2-.2-.4 0-.6 .4-.8 .7-.8 .9-.4 .9 0 .8 .5 .5 .9 .2 .9-.2 .9-.3 .6-.4 .2-.2-.4 0-.6 .4-.8 .7-.8 .9-.4 .9 0 .8 .5 .5 .9 .1 .9" stroke="#c46abd" stroke-width=".55" opacity=".8"/></g></symbol>
<linearGradient id="cb" x1="0" y1="37" x2="0" y2="359.2" gradientUnits="userSpaceOnUse">
<stop offset="0" stop-color="#3f58a5"/><stop offset=".06" stop-color="#415ba7"/><stop offset=".292" stop-color="#4d69ae"/><stop offset=".413" stop-color="#567bbb"/><stop offset=".528" stop-color="#6e9dcf"/><stop offset=".649" stop-color="#90b5dc"/><stop offset=".763" stop-color="#afcbe6"/><stop offset=".881" stop-color="#d3e1f0"/><stop offset="1" stop-color="#f5f7fb"/></linearGradient>
</defs><g font-size="16" fill="#111"><text x="-0.9" y="12.6">a</text><text x="168" y="12.6">b</text><text x="165.9" y="189.9">c</text><text x="435.6" y="11.4">d</text></g><text x="12.3" y="39.6" font-size="13.6"><tspan fill="#f5a645">UV</tspan><tspan fill="#1a1a1a"> crosslinking</tspan></text><g fill="none" stroke="#f6ab4e" stroke-width="1.1" stroke-linejoin="miter"><polyline points="38.4,50 32.7,68.3 50.3,62.4 41.5,78.8"/><polyline points="64.7,46.6 58.5,64.5 76,59 67.2,75"/></g><g fill="#f6ab4e"><polygon points="40.5,80.7 37.2,75.2 44.6,77.6"/><polygon points="66.2,77 63.1,71.6 70.4,73.8"/></g><use href="#ribo"/><text transform="translate(105.2,93.2) scale(.94,1.04)" font-size="13.7" fill="#4cb04b">18S</text><text transform="translate(105.2,109.8) scale(.96,1.04)" font-size="13.7" fill="#b0459f">25S</text><text transform="translate(27.1,150.5) scale(.99,1.05)" font-size="13.7" fill="#1a1a1a">Ribosome</text><text transform="translate(86.5,168.9) scale(1,1.03)" font-size="13.5" fill="#1a1a1a">LNA probe</text><line x1="104.8" y1="171" x2="96.9" y2="185.6" stroke="#555" stroke-width=".6"/><use href="#ribo" transform="translate(-4,100.8)"/><path d="M99.6 203.3L98.8 202.4L97.9 201.6L96.9 201.2L95.7 201.1L94.5 201.3L93.3 201.4L92.1 201.3L91.1 200.9L90.5 199.5L90.0 197.8M103.4 197.3L102.9 196.1L102.4 195.1L101.5 194.4L100.5 193.9L99.3 193.6L98.1 193.3L97.0 192.8L96.2 192.1L96.1 190.5L96.2 188.8M109.9 192.4L110.0 191.2L109.9 190.0L109.4 189.0L108.6 188.2L107.6 187.4L106.6 186.7L105.8 185.8L105.4 184.8L105.9 183.4L106.6 181.8M117.5 190.5L118.1 189.4L118.4 188.3L118.3 187.2L117.9 186.1L117.2 185.0L116.6 184.0L116.2 182.9L116.1 181.8L117.2 180.6L118.4 179.5M124.3 191.3L125.1 190.4L125.8 189.4L126.1 188.4L126.0 187.2L125.8 186.0L125.5 184.8L125.5 183.6L125.8 182.6L127.1 181.8L128.7 181.1M135.0 198.7L136.2 198.5L137.3 198.1L138.2 197.4L138.8 196.5L139.4 195.4L139.9 194.2L140.5 193.3L141.4 192.6L143.0 192.8L144.7 193.2M138.0 204.3L139.2 204.5L140.4 204.5L141.4 204.2L142.3 203.4L143.2 202.5L144.0 201.6L145.0 200.9L146.0 200.6L147.4 201.3L148.9 202.2M139.1 209.9L140.2 210.5L141.3 210.8L142.4 210.7L143.5 210.3L144.6 209.6L145.6 209.0L146.7 208.6L147.8 208.5L149.0 209.6L150.1 210.8M138.6 215.6L139.5 216.4L140.5 217.0L141.6 217.3L142.7 217.2L143.9 216.8L145.1 216.5L146.3 216.4L147.4 216.7L148.2 218.0L149.0 219.5M136.7 220.6L137.4 221.7L138.2 222.5L139.2 223.0L140.3 223.2L141.6 223.2L142.8 223.2L143.9 223.4L144.9 223.9L145.4 225.4L145.7 227.1M133.6 225.0L134.0 226.2L134.6 227.2L135.4 227.9L136.4 228.4L137.6 228.7L138.8 229.1L139.9 229.5L140.7 230.3L140.7 231.9L140.6 233.6M128.2 229.1L128.2 230.3L128.4 231.5L128.9 232.5L129.8 233.3L130.8 234.0L131.8 234.7L132.7 235.5L133.2 236.4L132.7 237.9L132.1 239.5M122.5 231.1L122.1 232.3L122.0 233.5L122.2 234.5L122.8 235.6L123.6 236.5L124.3 237.5L124.9 238.5L125.1 239.6L124.2 240.9L123.1 242.2M116.8 231.4L116.1 232.5L115.7 233.5L115.6 234.6L115.8 235.8L116.3 236.9L116.8 238.0L117.1 239.2L117.0 240.3L115.8 241.3L114.4 242.2M110.6 229.9L109.6 230.7L108.9 231.5L108.4 232.5L108.3 233.7L108.4 234.9L108.6 236.2L108.5 237.3L108.0 238.3L106.6 238.9L104.9 239.4M105.7 226.9L104.5 227.4L103.6 228.0L102.9 228.9L102.5 230.0L102.2 231.2L102.0 232.4L101.6 233.5L100.9 234.4L99.3 234.5L97.6 234.5M101.2 221.9L100.0 221.9L98.8 222.2L97.9 222.8L97.2 223.7L96.6 224.8L95.9 225.9L95.2 226.8L94.3 227.3L92.7 227.0L91.1 226.4M99.0 217.0L97.8 216.8L96.6 216.7L95.6 217.0L94.6 217.7L93.7 218.6L92.9 219.5L91.9 220.2L90.9 220.5L89.5 219.7L88.0 218.8" fill="none" stroke="#222" stroke-width="0.9" stroke-linecap="round"/><circle cx="118.6" cy="211" r="20.5" fill="#bdbdbd" stroke="#8c8c8c" stroke-width=".8"/><text transform="translate(75.3,257.9) scale(1,1.06)" font-size="13.5" fill="#1a1a1a">Magnetic bead</text><use href="#ribo" opacity=".8" transform="translate(-3.7,245.5) scale(.44)"/><path d="M50.4 285.0L50.6 284.5L50.7 283.9L50.7 283.4L50.6 282.9L50.4 282.4L50.2 281.8L50.1 281.3L50.1 280.8L50.4 280.2L50.9 279.7M53.0 285.4L53.3 285.0L53.6 284.5L53.7 284.0L53.8 283.4L53.8 282.9L53.8 282.3L53.8 281.8L54.0 281.3L54.5 280.9L55.0 280.5M55.3 286.6L55.7 286.3L56.1 285.9L56.4 285.5L56.7 285.0L56.8 284.4L57.0 283.9L57.2 283.4L57.5 283.0L58.1 282.8L58.8 282.6M57.1 288.4L57.6 288.3L58.1 288.0L58.6 287.7L58.9 287.3L59.3 286.9L59.6 286.4L59.9 286.0L60.4 285.7L61.0 285.7L61.7 285.7M58.3 290.7L58.9 290.7L59.4 290.7L59.9 290.5L60.4 290.2L60.8 289.9L61.3 289.6L61.7 289.3L62.2 289.2L62.8 289.3L63.5 289.5M58.7 293.3L59.2 293.5L59.8 293.6L60.3 293.6L60.8 293.5L61.4 293.3L61.9 293.1L62.4 293.0L62.9 293.0L63.5 293.3L64.0 293.8M58.3 295.9L58.7 296.2L59.2 296.5L59.7 296.6L60.3 296.7L60.8 296.7L61.4 296.7L61.9 296.7L62.4 296.9L62.8 297.4L63.2 297.9M57.1 298.2L57.4 298.6L57.8 299.0L58.2 299.3L58.7 299.6L59.3 299.7L59.8 299.9L60.3 300.1L60.7 300.4L60.9 301.0L61.1 301.7M55.3 300.0L55.4 300.5L55.7 301.0L56.0 301.5L56.4 301.8L56.8 302.2L57.3 302.5L57.7 302.8L58.0 303.3L58.0 303.9L58.0 304.6M53.0 301.2L53.0 301.8L53.0 302.3L53.2 302.8L53.5 303.3L53.8 303.7L54.1 304.2L54.4 304.6L54.5 305.1L54.4 305.7L54.2 306.4M50.4 301.6L50.2 302.1L50.1 302.7L50.1 303.2L50.2 303.7L50.4 304.2L50.6 304.8L50.7 305.3L50.7 305.8L50.4 306.4L49.9 306.9M47.8 301.2L47.5 301.6L47.2 302.1L47.1 302.6L47.0 303.2L47.0 303.7L47.0 304.3L47.0 304.8L46.8 305.3L46.3 305.7L45.8 306.1M45.5 300.0L45.1 300.3L44.7 300.7L44.4 301.1L44.1 301.6L44.0 302.2L43.8 302.7L43.6 303.2L43.3 303.6L42.7 303.8L42.0 304.0M43.7 298.2L43.2 298.3L42.7 298.6L42.2 298.9L41.9 299.3L41.5 299.7L41.2 300.2L40.9 300.6L40.4 300.9L39.8 300.9L39.1 300.9M42.5 295.9L41.9 295.9L41.4 295.9L40.9 296.1L40.4 296.4L40.0 296.7L39.5 297.0L39.1 297.3L38.6 297.4L38.0 297.3L37.3 297.1M43.7 288.4L43.4 288.0L43.0 287.6L42.6 287.3L42.1 287.0L41.5 286.9L41.0 286.7L40.5 286.5L40.1 286.2L39.9 285.6L39.7 284.9M45.5 286.6L45.4 286.1L45.1 285.6L44.8 285.1L44.4 284.8L44.0 284.4L43.5 284.1L43.1 283.8L42.8 283.3L42.8 282.7L42.8 282.0M47.8 285.4L47.8 284.8L47.8 284.3L47.6 283.8L47.3 283.3L47.0 282.9L46.7 282.4L46.4 282.0L46.3 281.5L46.4 280.9L46.6 280.2" fill="none" stroke="#222" stroke-width="1.05" stroke-linecap="round"/><circle cx="50.4" cy="293.3" r="8.3" fill="#bdbdbd" stroke="#8c8c8c" stroke-width=".8"/><use href="#ribo" opacity=".8" transform="translate(-0.4,280.6) scale(.44)"/><path d="M50.8 319.7L51.0 319.2L51.1 318.6L51.1 318.1L51.0 317.6L50.8 317.1L50.6 316.5L50.5 316.0L50.5 315.5L50.8 314.9L51.2 314.4M53.4 320.1L53.7 319.7L54.0 319.2L54.1 318.7L54.2 318.1L54.2 317.6L54.2 317.0L54.2 316.5L54.4 316.0L54.9 315.6L55.4 315.2M55.7 321.3L56.1 321.0L56.5 320.6L56.8 320.2L57.1 319.7L57.2 319.1L57.4 318.6L57.6 318.1L57.9 317.7L58.5 317.5L59.2 317.3M57.5 323.1L58.0 323.0L58.5 322.7L59.0 322.4L59.3 322.0L59.7 321.6L60.0 321.1L60.3 320.7L60.8 320.4L61.4 320.4L62.1 320.4M58.7 325.4L59.3 325.4L59.8 325.4L60.3 325.2L60.8 324.9L61.2 324.6L61.7 324.3L62.1 324.0L62.6 323.9L63.2 324.0L63.9 324.2M59.1 328.0L59.6 328.2L60.2 328.3L60.7 328.3L61.2 328.2L61.8 328.0L62.3 327.8L62.8 327.7L63.3 327.7L63.9 328.0L64.4 328.4M58.7 330.6L59.1 330.9L59.6 331.2L60.1 331.3L60.7 331.4L61.2 331.4L61.8 331.4L62.3 331.4L62.8 331.6L63.2 332.1L63.6 332.6M57.5 332.9L57.8 333.3L58.2 333.7L58.6 334.0L59.1 334.3L59.7 334.4L60.2 334.6L60.7 334.8L61.1 335.1L61.3 335.7L61.5 336.4M55.7 334.7L55.8 335.2L56.1 335.7L56.4 336.2L56.8 336.5L57.2 336.9L57.7 337.2L58.1 337.5L58.4 338.0L58.4 338.6L58.4 339.3M53.4 335.9L53.4 336.5L53.4 337.0L53.6 337.5L53.9 338.0L54.2 338.4L54.5 338.9L54.8 339.3L54.9 339.8L54.8 340.4L54.6 341.1M50.8 336.3L50.6 336.8L50.5 337.4L50.5 337.9L50.6 338.4L50.8 338.9L51.0 339.5L51.1 340.0L51.1 340.5L50.8 341.1L50.3 341.6M48.2 335.9L47.9 336.3L47.6 336.8L47.5 337.3L47.4 337.9L47.4 338.4L47.4 339.0L47.4 339.5L47.2 340.0L46.7 340.4L46.2 340.8M45.9 334.7L45.5 335.0L45.1 335.4L44.8 335.8L44.5 336.3L44.4 336.9L44.2 337.4L44.0 337.9L43.7 338.3L43.1 338.5L42.4 338.7M44.1 332.9L43.6 333.0L43.1 333.3L42.6 333.6L42.3 334.0L41.9 334.4L41.6 334.9L41.3 335.3L40.8 335.6L40.2 335.6L39.5 335.6M42.9 330.6L42.3 330.6L41.8 330.6L41.3 330.8L40.8 331.1L40.4 331.4L39.9 331.7L39.5 332.0L39.0 332.1L38.4 332.0L37.7 331.8M44.1 323.1L43.8 322.7L43.4 322.3L43.0 322.0L42.5 321.7L41.9 321.6L41.4 321.4L40.9 321.2L40.5 320.9L40.3 320.3L40.1 319.6M45.9 321.3L45.8 320.8L45.5 320.3L45.2 319.8L44.8 319.5L44.4 319.1L43.9 318.8L43.5 318.5L43.2 318.0L43.2 317.4L43.2 316.7M48.2 320.1L48.2 319.5L48.2 319.0L48.0 318.5L47.7 318.0L47.4 317.6L47.1 317.1L46.8 316.7L46.7 316.2L46.8 315.6L47.0 314.9" fill="none" stroke="#222" stroke-width="1.05" stroke-linecap="round"/><circle cx="50.8" cy="328" r="8.3" fill="#bdbdbd" stroke="#8c8c8c" stroke-width=".8"/><use href="#ribo" opacity=".8" transform="translate(-1.9,314.2) scale(.44)"/><path d="M51.8 354.3L52.0 353.8L52.1 353.2L52.1 352.7L52.0 352.2L51.8 351.7L51.6 351.1L51.5 350.6L51.5 350.1L51.8 349.5L52.2 349.0M54.4 354.7L54.7 354.3L55.0 353.8L55.1 353.3L55.2 352.7L55.2 352.2L55.2 351.6L55.2 351.1L55.4 350.6L55.9 350.2L56.4 349.8M56.7 355.9L57.1 355.6L57.5 355.2L57.8 354.8L58.1 354.3L58.2 353.7L58.4 353.2L58.6 352.7L58.9 352.3L59.5 352.1L60.2 351.9M58.5 357.7L59.0 357.6L59.5 357.3L60.0 357.0L60.3 356.6L60.7 356.2L61.0 355.7L61.3 355.3L61.8 355.0L62.4 355.0L63.1 355.0M59.7 360.0L60.3 360.0L60.8 360.0L61.3 359.8L61.8 359.5L62.2 359.2L62.7 358.9L63.1 358.6L63.6 358.5L64.2 358.6L64.9 358.8M60.1 362.6L60.6 362.8L61.2 362.9L61.7 362.9L62.2 362.8L62.8 362.6L63.3 362.4L63.8 362.3L64.3 362.3L64.9 362.6L65.4 363.1M59.7 365.2L60.1 365.5L60.6 365.8L61.1 365.9L61.7 366.0L62.2 366.0L62.8 366.0L63.3 366.0L63.8 366.2L64.2 366.7L64.6 367.2M58.5 367.5L58.8 367.9L59.2 368.3L59.6 368.6L60.1 368.9L60.7 369.0L61.2 369.2L61.7 369.4L62.1 369.7L62.3 370.3L62.5 371.0M56.7 369.3L56.8 369.8L57.1 370.3L57.4 370.8L57.8 371.1L58.2 371.5L58.7 371.8L59.1 372.1L59.4 372.6L59.4 373.2L59.4 373.9M54.4 370.5L54.4 371.1L54.4 371.6L54.6 372.1L54.9 372.6L55.2 373.0L55.5 373.5L55.8 373.9L55.9 374.4L55.8 375.0L55.6 375.7M51.8 370.9L51.6 371.4L51.5 372.0L51.5 372.5L51.6 373.0L51.8 373.6L52.0 374.1L52.1 374.6L52.1 375.1L51.8 375.7L51.3 376.2M49.2 370.5L48.9 370.9L48.6 371.4L48.5 371.9L48.4 372.5L48.4 373.0L48.4 373.6L48.4 374.1L48.2 374.6L47.7 375.0L47.2 375.4M46.9 369.3L46.5 369.6L46.1 370.0L45.8 370.4L45.5 370.9L45.4 371.5L45.2 372.0L45.0 372.5L44.7 372.9L44.1 373.1L43.4 373.3M45.1 367.5L44.6 367.6L44.1 367.9L43.6 368.2L43.3 368.6L42.9 369.0L42.6 369.5L42.3 369.9L41.8 370.2L41.2 370.2L40.5 370.2M43.9 365.2L43.3 365.2L42.8 365.2L42.3 365.4L41.8 365.7L41.4 366.0L40.9 366.3L40.5 366.6L40.0 366.7L39.4 366.6L38.7 366.4M45.1 357.7L44.8 357.3L44.4 356.9L44.0 356.6L43.5 356.3L42.9 356.2L42.4 356.0L41.9 355.8L41.5 355.5L41.3 354.9L41.1 354.2M46.9 355.9L46.8 355.4L46.5 354.9L46.2 354.4L45.8 354.1L45.4 353.7L44.9 353.4L44.5 353.1L44.2 352.6L44.2 352.0L44.2 351.3M49.2 354.7L49.2 354.1L49.2 353.6L49.0 353.1L48.7 352.6L48.4 352.2L48.1 351.7L47.8 351.3L47.7 350.8L47.8 350.2L48.0 349.5" fill="none" stroke="#222" stroke-width="1.05" stroke-linecap="round"/><circle cx="51.8" cy="362.6" r="8.3" fill="#bdbdbd" stroke="#8c8c8c" stroke-width=".8"/><path d="M108.3 304.3H127.5A24.55 24.55 0 0 1 127.5 353.4H108.3V339H127.3A10.25 10.25 0 0 0 127.3 318.5H108.3Z" fill="#354953"/><rect x="92.2" y="304.3" width="16.3" height="14.2" fill="#e3293a"/><rect x="92.2" y="339" width="16.3" height="14.4" fill="#0d83bf"/><g fill="#e6a623" stroke="none"><polygon points="73.97,298.48 77.59,305.80 79.21,304.80 74.23,298.32"/><polygon points="83.84,303.77 89.08,309.49 89.32,309.31 85.36,302.63"/><polygon points="66.13,310.43 74.53,316.13 75.47,314.47 66.27,310.17"/><polygon points="79.86,309.44 89.33,313.53 89.47,313.27 80.74,307.76"/><polygon points="75.02,323.45 82.11,323.44 81.89,321.56 74.98,323.15"/><polygon points="83.36,317.74 88.93,315.95 88.87,315.65 83.04,315.86"/><polygon points="73.27,332.75 80.14,334.74 80.46,332.86 73.33,332.45"/><polygon points="81.14,341.04 88.38,341.45 88.42,341.15 81.46,339.16"/><polygon points="66.27,346.63 74.53,343.35 73.67,341.65 66.13,346.37"/><polygon points="80.92,349.35 88.97,344.53 88.83,344.27 80.08,347.65"/><polygon points="73.82,358.89 78.98,352.84 77.42,351.76 73.58,358.71"/><polygon points="85.28,355.24 89.12,348.29 88.88,348.11 83.72,354.16"/></g><g fill="none" stroke="#e6a623" stroke-width="1.9" stroke-linejoin="miter" stroke-miterlimit="3"><polyline points="78.4,305.3 79.8,300.3 83.7,307.5 84.6,303.2"/><polyline points="75.0,315.3 73.3,309.6 81.7,314.9 80.3,308.6"/><polyline points="82.0,322.5 78.9,319.7 85.6,318.9 83.2,316.8"/><polyline points="80.3,333.8 76.9,337.2 85.1,337.7 81.3,340.1"/><polyline points="74.1,342.5 73.1,348.5 81.7,342.7 80.5,348.5"/><polyline points="78.2,352.3 79.4,357.3 83.7,349.9 84.5,354.7"/></g><g stroke="#3a3a3a" stroke-width="1.3" fill="none"><path d="M214 22.4V167H431.3"/><path d="M207.8 167.00H214"/><path d="M207.8 130.85H214"/><path d="M207.8 94.70H214"/><path d="M207.8 58.55H214"/><path d="M207.8 22.40H214"/><path d="M247 167V172.4"/><path d="M297 167V172.4"/><path d="M347 167V172.4"/><path d="M397 167V172.4"/></g><g font-size="11" fill="#222" text-anchor="end"><text x="205.8" y="168.90">0</text><text x="205.8" y="132.75">5</text><text x="205.8" y="96.60">10</text><text x="205.8" y="60.45">15</text><text x="205.8" y="24.30">20</text></g><g font-size="9.6" fill="#222" text-anchor="middle"><text x="247" y="181.5">25S</text><text x="297" y="181.5">25S-XL</text><text x="347" y="181.5">Control</text><text x="397" y="181.5">Control-XL</text></g><text transform="translate(188.8,143.8) rotate(-90)" font-size="10.5" fill="#222">Relative Quantification</text><rect x="231.55" y="146.15" width="30.8" height="20.85" fill="#d8d8d8" stroke="#111" stroke-width="1.35"/><path d="M247.0 135.8V153.9M238.7 135.8H255.3M238.7 153.9H255.3" stroke="#111" stroke-width="1.35" fill="none"/><circle cx="247.1" cy="134.5" r="3.4" fill="#000"/><circle cx="241.4" cy="151.4" r="3.4" fill="#000"/><circle cx="252.8" cy="149" r="3.4" fill="#000"/><rect x="281.55" y="75.85" width="30.8" height="91.15" fill="#d8d8d8" stroke="#111" stroke-width="1.35"/><path d="M297.0 56.1V92.2M288.7 56.1H305.3M288.7 92.2H305.3" stroke="#111" stroke-width="1.35" fill="none"/><circle cx="297" cy="53.1" r="3.4" fill="#000"/><circle cx="291.3" cy="85.2" r="3.4" fill="#000"/><circle cx="302.8" cy="83.7" r="3.4" fill="#000"/><rect x="331.55" y="148.55" width="30.8" height="18.45" fill="#d8d8d8" stroke="#111" stroke-width="1.35"/><path d="M347.0 141.7V152.5M338.7 141.7H355.3M338.7 152.5H355.3" stroke="#111" stroke-width="1.35" fill="none"/><circle cx="341.2" cy="143.6" r="3.4" fill="#000"/><circle cx="352.8" cy="143.9" r="3.4" fill="#000"/><circle cx="347.1" cy="153.3" r="3.4" fill="#000"/><rect x="381.55" y="156.95" width="30.8" height="10.05" fill="#d8d8d8" stroke="#111" stroke-width="1.35"/><path d="M397.0 148.2V161.2M388.7 148.2H405.3M388.7 161.2H405.3" stroke="#111" stroke-width="1.35" fill="none"/><circle cx="397.1" cy="147.1" r="3.4" fill="#000"/><circle cx="391.2" cy="159.7" r="3.4" fill="#000"/><circle cx="402.8" cy="158.5" r="3.4" fill="#000"/><g stroke="#3a3a3a" stroke-width="1.3" fill="none"><path d="M212 204.1V350.3H432.5"/><path d="M207.7 350.30H212"/><path d="M207.7 301.57H212"/><path d="M207.7 252.84H212"/><path d="M207.7 204.11H212"/><path d="M274.6 350.3V354.7"/><path d="M369 350.3V354.7"/></g><g font-size="11.5" fill="#222" text-anchor="end"><text x="205.4" y="351.20">0%</text><text x="205.4" y="302.47">2%</text><text x="205.4" y="253.74">4%</text><text x="205.4" y="205.01">6%</text></g><rect x="243.3" y="276.9" width="63.2" height="73.4" fill="#8a4b9f"/><rect x="337.5" y="345.4" width="63.1" height="4.9" fill="#6a99ca"/><path d="M274.5 225.5V327.6M259.3 225.5H290.6M259.3 327.6H290.6M369 342.2V347.5M353.3 342.2H384.8M353.3 347.5H384.8" stroke="#111" stroke-width="1.35" fill="none"/><circle cx="274.5" cy="211.9" r="2.9" fill="#000"/><circle cx="274.5" cy="273.1" r="2.9" fill="#000"/><circle cx="274.5" cy="285.9" r="2.9" fill="#000"/><circle cx="274.5" cy="335.7" r="2.9" fill="#000"/><circle cx="369" cy="339.8" r="2.9" fill="#000"/><circle cx="357.1" cy="347.2" r="2.9" fill="#000"/><circle cx="369" cy="346.3" r="2.9" fill="#000"/><circle cx="380.4" cy="346.3" r="2.9" fill="#000"/><g font-size="9.6" fill="#222" text-anchor="middle"><text x="275.6" y="364.4">Total RNA</text><text x="368.7" y="364.4">Ribo-Capture</text></g><text transform="translate(184.8,341.4) rotate(-90)" font-size="10.6" fill="#222">Percentage of reads ETS-ITS</text><text transform="translate(448.6,31.6) scale(1,1.09)" font-size="13.5" fill="#111">POS</text><g><rect x="474.25" y="36.17" width="19.15" height="9.93" fill="#e8eef8"/><rect x="474.25" y="45.70" width="19.15" height="9.93" fill="#e9eff8"/><rect x="474.25" y="55.22" width="19.15" height="9.93" fill="#eef2f8"/><rect x="474.25" y="64.75" width="19.15" height="9.93" fill="#c5d7ee"/><rect x="474.25" y="74.27" width="19.15" height="9.93" fill="#b7cfea"/><rect x="474.25" y="83.80" width="19.15" height="9.93" fill="#e6edf7"/><rect x="474.25" y="93.33" width="19.15" height="9.93" fill="#e6edf7"/><rect x="474.25" y="102.85" width="19.15" height="9.93" fill="#dce7f3"/><rect x="474.25" y="112.38" width="19.15" height="9.93" fill="#f3f5f9"/><rect x="474.25" y="121.90" width="19.15" height="9.93" fill="#a8c4e5"/><rect x="493.00" y="121.90" width="19.15" height="9.93" fill="#b9d0ea"/><rect x="511.75" y="121.90" width="19.15" height="9.93" fill="#a9c5e5"/><rect x="530.50" y="121.90" width="19.15" height="9.93" fill="#d3e1f1"/><rect x="549.25" y="121.90" width="19.15" height="9.93" fill="#b0cae8"/><rect x="568.00" y="121.90" width="19.15" height="9.93" fill="#6893cb"/><rect x="586.75" y="121.90" width="19.15" height="9.93" fill="#dfe8f4"/><rect x="605.50" y="121.90" width="19.15" height="9.93" fill="#6590ca"/><rect x="474.25" y="131.43" width="19.15" height="9.93" fill="#f0f3f8"/><rect x="474.25" y="140.96" width="19.15" height="9.93" fill="#f0f4f8"/><rect x="474.25" y="150.48" width="19.15" height="9.93" fill="#dce7f3"/><rect x="474.25" y="160.01" width="19.15" height="9.93" fill="#dce7f3"/><rect x="474.25" y="169.53" width="19.15" height="9.93" fill="#dce7f3"/><rect x="474.25" y="179.06" width="19.15" height="9.93" fill="#e8eef8"/><rect x="474.25" y="188.59" width="19.15" height="9.93" fill="#dbe6f3"/><rect x="474.25" y="198.11" width="19.15" height="9.93" fill="#f2f4f8"/><rect x="474.25" y="207.64" width="19.15" height="9.93" fill="#7ba6d6"/><rect x="493.00" y="207.64" width="19.15" height="9.93" fill="#3f58ac"/><rect x="511.75" y="207.64" width="19.15" height="9.93" fill="#3c55aa"/><rect x="530.50" y="207.64" width="19.15" height="9.93" fill="#3c55aa"/><rect x="549.25" y="207.64" width="19.15" height="9.93" fill="#5a82c2"/><rect x="568.00" y="207.64" width="19.15" height="9.93" fill="#4c6db8"/><rect x="586.75" y="207.64" width="19.15" height="9.93" fill="#77a3d4"/><rect x="605.50" y="207.64" width="19.15" height="9.93" fill="#4a66b5"/><rect x="474.25" y="217.16" width="19.15" height="9.93" fill="#f0f3f8"/><rect x="474.25" y="226.69" width="19.15" height="9.93" fill="#f0f3f8"/><rect x="474.25" y="236.22" width="19.15" height="9.93" fill="#e4ebf6"/><rect x="568.00" y="236.22" width="19.15" height="9.93" fill="#e9eff8"/><rect x="474.25" y="245.74" width="19.15" height="9.93" fill="#eaf0f7"/><rect x="474.25" y="255.27" width="19.15" height="9.93" fill="#e4ebf6"/><rect x="474.25" y="264.79" width="19.15" height="9.93" fill="#ebf0f7"/><rect x="474.25" y="274.32" width="19.15" height="9.93" fill="#e2eaf5"/><rect x="568.00" y="274.32" width="19.15" height="9.93" fill="#c5d8ef"/><rect x="474.25" y="283.85" width="19.15" height="9.93" fill="#b7cfea"/><rect x="474.25" y="293.37" width="19.15" height="9.93" fill="#f2f5f9"/><rect x="474.25" y="302.90" width="19.15" height="9.93" fill="#e9eef7"/><rect x="493.00" y="302.90" width="19.15" height="9.93" fill="#c5d8ee"/><rect x="530.50" y="302.90" width="19.15" height="9.93" fill="#c5d8ee"/><rect x="568.00" y="302.90" width="19.15" height="9.93" fill="#6690cb"/><rect x="605.50" y="302.90" width="19.15" height="9.93" fill="#84acd9"/><rect x="474.25" y="312.42" width="19.15" height="9.93" fill="#e6edf6"/><rect x="474.25" y="321.95" width="19.15" height="9.93" fill="#dbe6f3"/><rect x="493.00" y="321.95" width="19.15" height="9.93" fill="#5a80c4"/><rect x="511.75" y="321.95" width="19.15" height="9.93" fill="#5679c0"/><rect x="530.50" y="321.95" width="19.15" height="9.93" fill="#5679c0"/><rect x="549.25" y="321.95" width="19.15" height="9.93" fill="#7eaad8"/><rect x="586.75" y="321.95" width="19.15" height="9.93" fill="#c5d8ee"/><rect x="474.25" y="331.48" width="19.15" height="9.93" fill="#e8eef7"/><rect x="493.00" y="331.48" width="19.15" height="9.93" fill="#d7e4f2"/><rect x="511.75" y="331.48" width="19.15" height="9.93" fill="#cfdff1"/><rect x="568.00" y="331.48" width="19.15" height="9.93" fill="#72a0d2"/><rect x="586.75" y="331.48" width="19.15" height="9.93" fill="#e2eaf6"/><rect x="474.25" y="341.00" width="19.15" height="9.93" fill="#e3ebf5"/><rect x="530.50" y="341.00" width="19.15" height="9.93" fill="#6692cc"/><rect x="474.25" y="350.53" width="19.15" height="9.93" fill="#eaeff9"/></g><rect x="474.75" y="37" width="149.25" height="322.5" fill="none" stroke="#000" stroke-width="1.5"/><g font-size="10.3" fill="#1a1a1a" text-anchor="end"><text transform="translate(473.4,45.43) scale(.875,1)">4721</text><text transform="translate(473.4,54.96) scale(.875,1)">4866</text><text transform="translate(473.4,64.48) scale(.875,1)">4897</text><text transform="translate(473.4,74.01) scale(.875,1)">4934</text><text transform="translate(473.4,83.54) scale(.875,1)">5157</text><text transform="translate(473.4,93.06) scale(.875,1)">5265</text><text transform="translate(473.4,102.59) scale(.875,1)">5335</text><text transform="translate(473.4,112.12) scale(.875,1)">5356</text><text transform="translate(473.4,121.64) scale(.875,1)">5515</text><text transform="translate(473.4,131.17) scale(.875,1)">5736</text><text transform="translate(473.4,140.69) scale(.875,1)">5932</text><text transform="translate(473.4,150.22) scale(.875,1)">6065</text><text transform="translate(473.4,159.75) scale(.875,1)">6082</text><text transform="translate(473.4,169.27) scale(.875,1)">6255</text><text transform="translate(473.4,178.80) scale(.875,1)">6256</text><text transform="translate(473.4,188.32) scale(.875,1)">6389</text><text transform="translate(473.4,197.85) scale(.875,1)">6413</text><text transform="translate(473.4,207.38) scale(.875,1)">6582</text><text transform="translate(473.4,216.90) scale(.875,1)">6680</text><text transform="translate(473.4,226.43) scale(.875,1)">6712</text><text transform="translate(473.4,235.95) scale(.875,1)">6748</text><text transform="translate(473.4,245.48) scale(.875,1)">6759</text><text transform="translate(473.4,255.01) scale(.875,1)">6888</text><text transform="translate(473.4,264.53) scale(.875,1)">7172</text><text transform="translate(473.4,274.06) scale(.875,1)">7181</text><text transform="translate(473.4,283.58) scale(.875,1)">7382</text><text transform="translate(473.4,293.11) scale(.875,1)">7395</text><text transform="translate(473.4,302.63) scale(.875,1)">7422</text><text transform="translate(473.4,312.16) scale(.875,1)">7440</text><text transform="translate(473.4,321.69) scale(.875,1)">7588</text><text transform="translate(473.4,331.21) scale(.875,1)">7847</text><text transform="translate(473.4,340.74) scale(.875,1)">7869</text><text transform="translate(473.4,350.26) scale(.875,1)">7902</text><text transform="translate(473.4,359.79) scale(.875,1)">7987</text></g><g font-size="11.7" font-weight="bold" fill="#111" text-anchor="end"><text transform="translate(488.02,364.6) rotate(-90)">DNA</text><text transform="translate(506.77,364.6) rotate(-90)">AL</text><text transform="translate(525.52,364.6) rotate(-90)">YL</text><text transform="translate(544.27,364.6) rotate(-90)">INFLO</text><text transform="translate(563.02,364.6) rotate(-90)">S</text><text transform="translate(581.77,364.6) rotate(-90)">AL-DB</text><text transform="translate(600.52,364.6) rotate(-90)">YL-DB</text><text transform="translate(619.27,364.6) rotate(-90)">INFLO-DB</text></g><rect x="643.3" y="37" width="18.9" height="322.2" fill="url(#cb)" stroke="#000" stroke-width="1.6"/><path d="M644 283.25H647M661.5 283.25H658.5M644 207.30H647M661.5 207.30H658.5M644 131.35H647M661.5 131.35H658.5M644 55.40H647M661.5 55.40H658.5" stroke="#000" stroke-width="1.2"/><g font-size="14" fill="#111"><text x="665.6" y="361.70">0%</text><text x="665.6" y="285.75">2%</text><text x="665.6" y="209.80">4%</text><text x="665.6" y="133.85">6%</text><text x="665.6" y="57.90">8%</text></g><text x="645" y="379.6" font-size="12" fill="#111">AF</text></svg></body></html>
